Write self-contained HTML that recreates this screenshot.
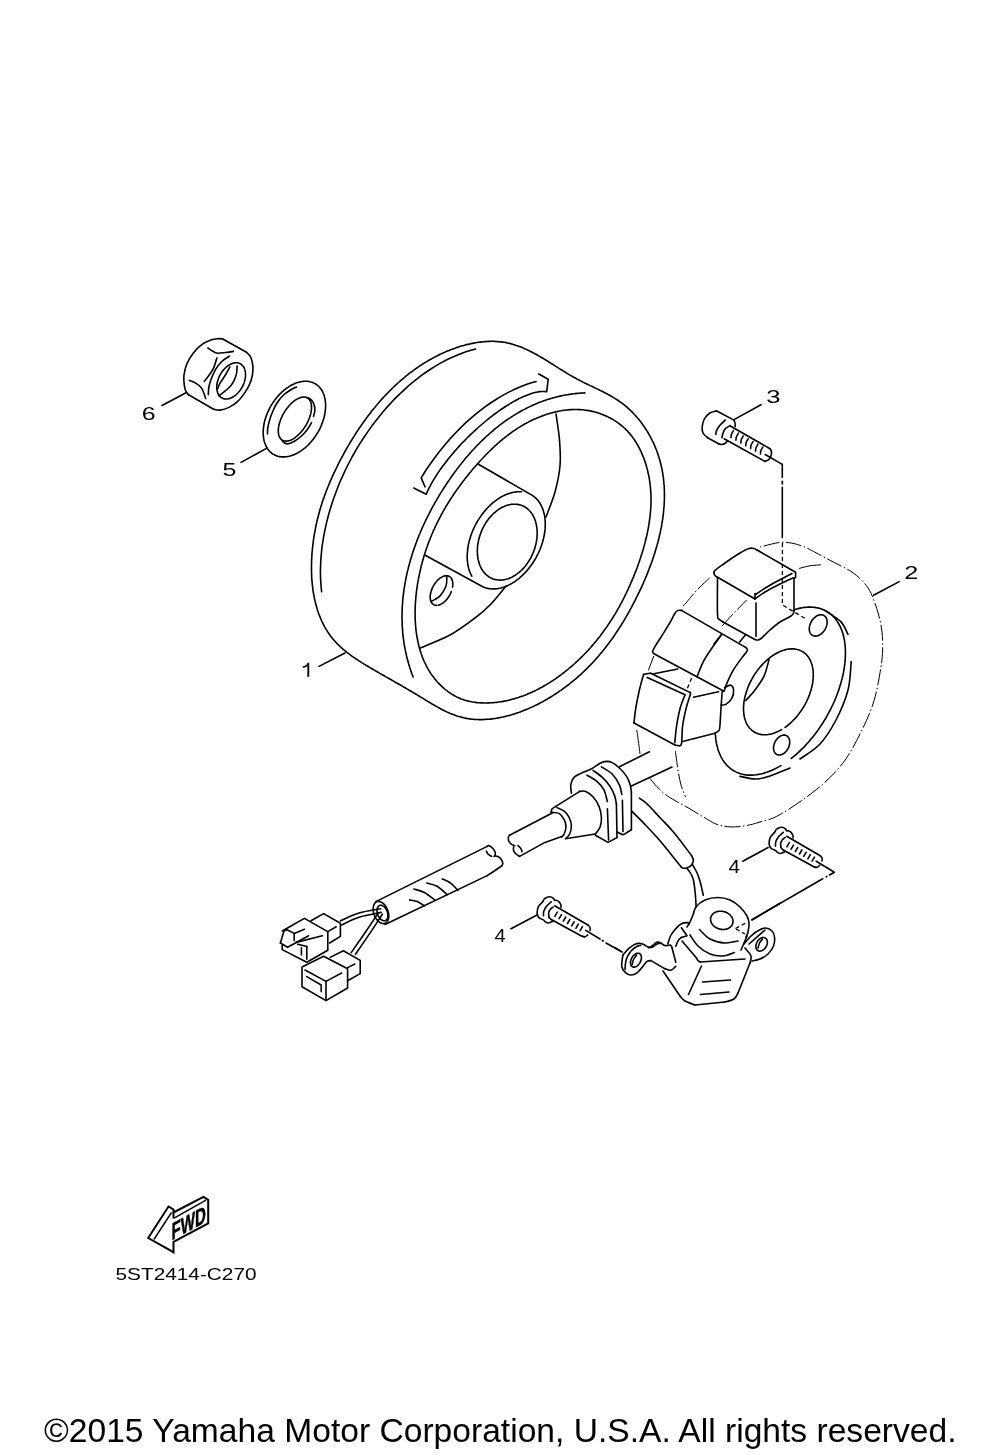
<!DOCTYPE html>
<html><head><meta charset="utf-8">
<style>
html,body{margin:0;padding:0;background:#fff;}
body{width:1000px;height:1455px;overflow:hidden;}
svg{display:block;filter:grayscale(1);}
.s{fill:none;stroke:#000;stroke-width:1.6;stroke-linecap:round;stroke-linejoin:round;}
.t{fill:none;stroke:#000;stroke-width:1;}
.ph{fill:none;stroke:#000;stroke-width:1;stroke-dasharray:16 2.5 1.5 2.5;}
.hd{fill:none;stroke:#000;stroke-width:1.3;stroke-dasharray:4 3;}
.f{fill:#000;stroke:none;}
.a{fill:none;stroke:#000;stroke-width:2;stroke-linejoin:miter;}
.a2{fill:none;stroke:#000;stroke-width:1.4;}
text{font-family:"Liberation Sans",sans-serif;fill:#000;}
.copy{font-size:33px;}
.pn{font-size:17px;}
.lbl{font-size:18px;}
.fwd{font-size:24px;font-weight:bold;stroke:#000;stroke-width:0.5px;}
</style></head><body>
<svg width="1000" height="1455" viewBox="0 0 1000 1455">
<path class="s" d="M333.3,639.4L332.3,638.2 331.3,637 330.4,635.7 329.5,634.5 328.6,633.2 327.7,631.9 326.9,630.6 326.1,629.3 325.3,627.9 324.5,626.6 323.8,625.2 323.1,623.8 322.4,622.4 321.7,621 321.1,619.5 320.5,618.1 319.9,616.6 319.3,615.2 318.7,613.7 318.2,612.2 317.7,610.7 317.2,609.2 316.8,607.6 316.3,606.1 315.9,604.5 315.5,603 315.1,601.4 314.8,599.8 314.4,598.2 314.1,596.6 313.8,595 313.5,593.4 313.2,591.8 313,590.2 312.8,588.6 312.6,586.9 312.4,585.3 312.2,583.6 312.1,582 311.9,580.3 311.8,578.7 311.7,577 311.6,575.4 311.6,573.7 311.5,572 311.5,570.4 311.5,568.7 311.5,567 311.5,565.4 311.5,563.7 311.6,562 311.6,560.3 311.7,558.7 311.8,557 311.9,555.3 312,553.7 312.1,552 312.3,550.4 312.4,548.7 312.6,547.1 312.8,545.4 313,543.8 313.2,542.1 313.4,540.5 313.6,538.9 313.9,537.3 314.1,535.7 314.4,534.1 314.7,532.5 315,530.9 315.3,529.3 315.6,527.7 315.9,526.1 316.2,524.5 316.6,523 316.9,521.4 317.3,519.9 317.7,518.3 318.1,516.8 318.5,515.2 318.9,513.7 319.3,512.2 319.7,510.6 320.2,509.1 320.6,507.6 321.1,506.1 321.6,504.6 322,503.1 322.5,501.6 323,500.1 323.5,498.6 324.1,497.1 324.6,495.6 325.1,494.1 325.7,492.7 326.2,491.2 326.8,489.7 327.4,488.2 328,486.8 328.6,485.3 329.2,483.9 329.8,482.4 330.4,480.9 331,479.5 331.7,478.1 332.3,476.6 333,475.2 333.6,473.7 334.3,472.3 335,470.9 335.7,469.4 336.4,468 337.1,466.6 337.8,465.1 338.5,463.7 339.2,462.3 339.9,460.9 340.7,459.4 341.4,458 342.2,456.6 343,455.2 343.7,453.8 344.5,452.3 345.3,450.9 346.1,449.5 346.9,448.1 347.7,446.7 348.5,445.3 349.3,443.9 350.2,442.5 351,441.1 351.9,439.7 352.7,438.4 353.6,437 354.5,435.6 355.3,434.2 356.2,432.8 357.1,431.5 358,430.1 358.9,428.8 359.8,427.4 360.8,426.1 361.7,424.7 362.6,423.4 363.6,422.1 364.5,420.7 365.5,419.4 366.5,418.1 367.4,416.8 368.4,415.5 369.4,414.2 370.4,412.9 371.4,411.6 372.4,410.3 373.5,409 374.5,407.8 375.5,406.5 376.6,405.3 377.6,404 378.7,402.8 379.8,401.6 380.8,400.3 381.9,399.1 383,397.9 384.1,396.7 385.2,395.5 386.3,394.4 387.5,393.2 388.6,392 389.7,390.9 390.9,389.7 392,388.6 393.2,387.5 394.4,386.3 395.6,385.2 396.7,384.1 397.9,383 399.1,382 400.3,380.9 401.6,379.8 402.8,378.8 404,377.8 405.3,376.7 406.5,375.7 407.8,374.7 409,373.7 410.3,372.7 411.6,371.8 412.9,370.8 414.2,369.9 415.5,368.9 416.8,368 418.1,367.1 419.4,366.2 420.7,365.3 422.1,364.4 423.4,363.6 424.8,362.7 426.2,361.9 427.5,361.1 428.9,360.3 430.3,359.5 431.7,358.7 433.1,357.9 434.5,357.2 435.9,356.4 437.4,355.7 438.8,355 440.2,354.3 441.7,353.6 443.2,352.9 444.6,352.3 446.1,351.6 447.6,351 449.1,350.4 450.6,349.8 452.1,349.3 453.6,348.7 455.1,348.2 456.7,347.6 458.2,347.1 459.7,346.6 461.3,346.1 462.8,345.7 464.4,345.3 466,344.8 467.6,344.4 469.1,344.1 470.7,343.7 472.3,343.4 473.9,343.1 475.5,342.8 477.1,342.5 478.7,342.3 480.3,342.1 481.9,341.9 483.4,341.7 485,341.6 486.6,341.5 488.2,341.4 489.8,341.4 491.4,341.3 493,341.3 494.6,341.4 496.2,341.5 497.8,341.6 499.3,341.7 500.9,341.9 502.5,342.1 504.1,342.3 505.6,342.5 507.2,342.9 508.7,343.2 510.3,343.6 511.8,344 513.3,344.4 514.8,344.9 516.3,345.4 517.9,345.9 519.4,346.5 520.9,347 522.3,347.6 523.8,348.3 525.3,348.9 526.8,349.6 528.2,350.3 529.7,351 531.1,351.7 532.5,352.5 534,353.2 535.4,354 536.8,354.8 538.2,355.6 539.6,356.4 541,357.2 542.4,358 543.8,358.8 545.2,359.7 546.6,360.5 548,361.4 549.3,362.2 550.7,363.1 552.1,364 553.5,364.8 554.8,365.7 556.2,366.6 557.6,367.4 558.9,368.3 560.3,369.2 561.7,370 563.1,370.9 564.5,371.7 565.8,372.6 567.2,373.4 568.6,374.3 570,375.1 571.4,375.9 572.8,376.7 574.3,377.5 575.7,378.3 577.1,379.1 578.6,379.8 580,380.6 581.5,381.3 582.9,382.1 584.4,382.8 585.8,383.5 587.3,384.2 588.8,384.9 590.2,385.6 591.7,386.3 593.2,387 594.7,387.7 596.1,388.4 597.6,389.1 599.1,389.8 600.5,390.6 602,391.3 603.4,392 604.8,392.8 606.3,393.5 607.7,394.3 609.1,395 610.5,395.8 611.9,396.6 613.3,397.4 614.7,398.3 616,399.1 617.4,400 618.7,400.9 620,401.8 621.3,402.7 622.6,403.7 623.9,404.7 625.1,405.7 626.3,406.7 627.5,407.7 628.7,408.8 629.9,409.9 631.1,411 632.2,412.1 633.3,413.3 634.4,414.5 635.5,415.7 636.6,416.9 637.6,418.1 638.7,419.3 639.7,420.6 640.7,421.8 641.6,423.1 642.6,424.4 643.5,425.7 644.4,427.1 645.3,428.4 646.2,429.8 647.1,431.1 647.9,432.5 648.7,433.9 649.5,435.3 650.3,436.7 651,438.1 651.8,439.5 652.5,441 653.2,442.4 653.9,443.9 654.5,445.3 655.1,446.8 655.7,448.3 656.3,449.8 656.9,451.2 657.4,452.7 657.9,454.2 658.4,455.7 658.9,457.2 659.4,458.7 659.8,460.2 660.2,461.8 660.6,463.3 661,464.8 661.3,466.3 661.7,467.9 662,469.4 662.3,470.9 662.6,472.5 662.8,474 663,475.6 663.3,477.1 663.5,478.7 663.6,480.3 663.8,481.8 663.9,483.4 664.1,485 664.2,486.5 664.3,488.1 664.3,489.7 664.4,491.3 664.4,492.8 664.4,494.4 664.4,496 664.4,497.6 664.4,499.2 664.3,500.8 664.3,502.4 664.2,504 664.1,505.6 664,507.2 663.8,508.7 663.7,510.3 663.5,511.9 663.4,513.5 663.2,515.1 663,516.7 662.8,518.3 662.5,519.9 662.3,521.5 662,523.1 661.7,524.7 661.5,526.3 661.2,527.9 660.8,529.5 660.5,531.1 660.2,532.7 659.8,534.3 659.4,535.9 659.1,537.5 658.7,539.1 658.3,540.7 657.9,542.3 657.4,543.9 657,545.5 656.5,547 656.1,548.6 655.6,550.2 655.1,551.8 654.6,553.4 654.1,554.9 653.6,556.5 653.1,558.1 652.6,559.6 652,561.2 651.5,562.8 650.9,564.3 650.3,565.9 649.7,567.4 649.1,569 648.5,570.5 647.9,572.1 647.3,573.6 646.7,575.2 646.1,576.7 645.4,578.2 644.8,579.7 644.1,581.3 643.5,582.8 642.8,584.3 642.1,585.8 641.4,587.3 640.7,588.8 640,590.3 639.3,591.8 638.6,593.2 637.9,594.7 637.2,596.2 636.4,597.7 635.7,599.1 635,600.6 634.2,602 633.5,603.5 632.7,604.9 632,606.3 631.2,607.8 630.4,609.2 629.7,610.6 628.9,612 628.1,613.4 627.3,614.8 626.5,616.2 625.7,617.6 624.9,618.9 624.1,620.3 623.3,621.7 622.4,623 621.6,624.4 620.8,625.7 619.9,627 619.1,628.4 618.2,629.7 617.4,631 616.5,632.3 615.6,633.6 614.8,634.9 613.9,636.2 613,637.5 612.1,638.8 611.2,640.1 610.2,641.3 609.3,642.6 608.4,643.8 607.4,645.1 606.5,646.3 605.5,647.6 604.6,648.8 603.6,650 602.6,651.2 601.6,652.4 600.6,653.6 599.6,654.8 598.6,656 597.6,657.2 596.5,658.4 595.5,659.5 594.4,660.7 593.4,661.8 592.3,663 591.2,664.1 590.1,665.3 589,666.4 587.9,667.5 586.8,668.6 585.7,669.7 584.5,670.8 583.4,671.9 582.2,673 581.1,674.1 579.9,675.1 578.7,676.2 577.5,677.3 576.3,678.3 575,679.4 573.8,680.4 572.6,681.4 571.3,682.4 570,683.5 568.8,684.5 567.5,685.5 566.2,686.4 564.9,687.4 563.5,688.4 562.2,689.3 560.9,690.3 559.5,691.2 558.2,692.2 556.8,693.1 555.4,694 554,694.9 552.6,695.8 551.2,696.7 549.8,697.5 548.4,698.4 547,699.2 545.6,700 544.1,700.9 542.7,701.7 541.2,702.4 539.7,703.2 538.3,704 536.8,704.7 535.3,705.4 533.8,706.2 532.3,706.9 530.8,707.6 529.3,708.2 527.8,708.9 526.3,709.5 524.8,710.1 523.2,710.7 521.7,711.3 520.2,711.9 518.6,712.5 517.1,713 515.5,713.5 514,714 512.4,714.5 510.8,715 509.3,715.4 507.7,715.8 506.1,716.2 504.5,716.6 503,717 501.4,717.3 499.8,717.6 498.2,717.9 496.6,718.2 495,718.5 493.4,718.7 491.9,718.9 490.3,719.1 488.7,719.2 487.1,719.3 485.5,719.4 483.9,719.5 482.4,719.6 480.8,719.6 479.2,719.6 477.6,719.5 476.1,719.5 474.5,719.4 472.9,719.2 471.4,719.1 469.8,718.9 468.3,718.7 466.7,718.4 465.2,718.1 463.7,717.8 462.1,717.4 460.6,717 459.1,716.6 457.6,716.2 456.1,715.7 454.6,715.1 453.2,714.6 451.7,714 450.2,713.4 448.8,712.8 447.3,712.1 445.8,711.4 444.4,710.7 443,710 441.5,709.3 440.1,708.5 438.7,707.7 437.2,706.9 435.8,706.1 434.4,705.3 433,704.5 431.6,703.7 430.2,702.8 428.8,702 427.3,701.1 425.9,700.3 424.5,699.4 423.2,698.6 421.8,697.7 420.4,696.9 419,696 417.6,695.2 416.2,694.3 414.8,693.5 413.4,692.7 412,691.8 410.6,691 409.2,690.2 407.9,689.4 406.5,688.6 405.1,687.8 403.7,687 402.3,686.1 400.9,685.3 399.5,684.5 398.1,683.7 396.7,683 395.3,682.2 394,681.4 392.6,680.6 391.2,679.8 389.8,679 388.4,678.2 387,677.4 385.6,676.6 384.2,675.8 382.8,675 381.4,674.2 380,673.4 378.6,672.6 377.2,671.8 375.8,671 374.3,670.1 372.9,669.3 371.5,668.5 370.1,667.7 368.7,666.8 367.3,666 365.9,665.2 364.5,664.3 363.1,663.4 361.7,662.6 360.3,661.7 358.9,660.8 357.6,659.9 356.2,659 354.9,658.1 353.5,657.2 352.2,656.3 350.9,655.3 349.6,654.3 348.3,653.4 347,652.4 345.8,651.4 344.5,650.4 343.3,649.4 342.1,648.3 340.9,647.3 339.8,646.2 338.6,645.1 337.5,644 336.4,642.9 335.4,641.7 334.3,640.6 333.3,639.4 333.3,639.4"/>
<path class="s" d="M584.8,392.9L582.9,393 581,393.1 579,393.2 577.1,393.4 575.2,393.6 573.3,393.8 571.4,394.1 569.5,394.4 567.6,394.7 565.7,395 563.8,395.3 562,395.7 560.1,396.1 558.3,396.5 556.4,397 554.6,397.5 552.8,398 551,398.5 549.2,399 547.4,399.6 545.6,400.2 543.8,400.8 542,401.5 540.3,402.1 538.5,402.8 536.8,403.5 535,404.3 533.3,405 531.6,405.8 529.9,406.6 528.2,407.4 526.5,408.2 524.9,409.1 523.2,409.9 521.6,410.8 519.9,411.7 518.3,412.7 516.7,413.6 515.1,414.6 513.5,415.6 511.9,416.6 510.4,417.6 508.8,418.6 507.3,419.7 505.7,420.7 504.2,421.8 502.7,422.9 501.2,424 499.7,425.2 498.3,426.3 496.8,427.5 495.3,428.7 493.9,429.9 492.5,431.1 491,432.3 489.6,433.5 488.2,434.8 486.8,436 485.5,437.3 484.1,438.6 482.8,439.9 481.4,441.2 480.1,442.5 478.8,443.8 477.4,445.1 476.2,446.5 474.9,447.9 473.6,449.2 472.3,450.6 471.1,452 469.8,453.4 468.6,454.8 467.4,456.2 466.1,457.6 464.9,459.1 463.8,460.5 462.6,462 461.4,463.5 460.2,464.9 459.1,466.4 457.9,467.9 456.8,469.4 455.7,470.9 454.5,472.4 453.4,474 452.3,475.5 451.2,477 450.2,478.6 449.1,480.1 448,481.7 447,483.3 445.9,484.9 444.9,486.5 443.8,488 442.8,489.7 441.8,491.3 440.8,492.9 439.8,494.5 438.8,496.1 437.9,497.8 436.9,499.4 435.9,501.1 435,502.7 434.1,504.4 433.1,506 432.2,507.7 431.3,509.4 430.4,511.1 429.5,512.8 428.7,514.5 427.8,516.2 427,517.9 426.1,519.6 425.3,521.3 424.5,523 423.7,524.8 422.9,526.5 422.1,528.2 421.4,530 420.6,531.7 419.9,533.5 419.1,535.3 418.4,537 417.7,538.8 417,540.6 416.4,542.3 415.7,544.1 415.1,545.9 414.4,547.7 413.8,549.5 413.2,551.3 412.6,553.1 412,554.9 411.5,556.7 410.9,558.5 410.4,560.3 409.9,562.1 409.4,563.9 408.9,565.8 408.4,567.6 408,569.4 407.5,571.2 407.1,573.1 406.7,574.9 406.3,576.7 405.9,578.6 405.6,580.4 405.2,582.3 404.9,584.1 404.6,586 404.3,587.8 404,589.7 403.8,591.5 403.5,593.4 403.3,595.2 403.1,597.1 402.9,598.9 402.7,600.8 402.6,602.7 402.5,604.5 402.3,606.4 402.2,608.2 402.2,610.1 402.1,612 402.1,613.8 402,615.7 402,617.6 402.1,619.4 402.1,621.3 402.2,623.2 402.2,625 402.3,626.9 402.5,628.8 402.6,630.6 402.7,632.5 402.9,634.4 403.1,636.2 403.3,638.1 403.6,639.9 403.9,641.8 404.1,643.7 404.4,645.5 404.8,647.4 405.1,649.2 405.5,651.1 405.9,652.9 406.3,654.8 406.7,656.6 407.2,658.5 407.7,660.3 408.2,662.2 408.7,664 409.3,665.9 409.8,667.7 410.4,669.5 411.1,671.4 411.7,673.2 412.4,675 413.1,676.9"/>
<path class="s" d="M644.5,460.1L644.9,461.4 645.4,462.7 645.8,464 646.2,465.4 646.6,466.7 646.9,468 647.3,469.3 647.6,470.7 647.9,472 648.2,473.3 648.5,474.7 648.8,476 649.1,477.4 649.3,478.7 649.5,480.1 649.7,481.4 649.9,482.8 650.1,484.1 650.2,485.5 650.4,486.8 650.5,488.2 650.6,489.5 650.7,490.9 650.8,492.2 650.9,493.6 650.9,495 651,496.3 651,497.7 651,499.1 651,500.4 651,501.8 651,503.2 650.9,504.5 650.9,505.9 650.8,507.3 650.7,508.6 650.6,510 650.5,511.4 650.4,512.7 650.3,514.1 650.1,515.5 650,516.8 649.8,518.2 649.6,519.6 649.4,520.9 649.3,522.3 649,523.7 648.8,525 648.6,526.4 648.3,527.8 648.1,529.1 647.8,530.5 647.6,531.8 647.3,533.2 647,534.6 646.7,535.9 646.4,537.3 646,538.6 645.7,540 645.4,541.3 645,542.7 644.7,544 644.3,545.4 643.9,546.7 643.6,548.1 643.2,549.4 642.8,550.8 642.4,552.1 642,553.4 641.5,554.8 641.1,556.1 640.7,557.4 640.2,558.8 639.8,560.1 639.3,561.4 638.9,562.7 638.4,564.1 637.9,565.4 637.4,566.7 637,568 636.5,569.3 636,570.6 635.5,571.9 635,573.2 634.4,574.5 633.9,575.8 633.4,577.1 632.9,578.3 632.3,579.6 631.8,580.9 631.3,582.2 630.7,583.4 630.2,584.7 629.6,586 629,587.2 628.4,588.5 627.9,589.7 627.3,591 626.7,592.2 626.1,593.5 625.5,594.7 624.9,595.9 624.3,597.2 623.7,598.4 623,599.6 622.4,600.8 621.8,602.1 621.1,603.3 620.5,604.5 619.8,605.7 619.2,606.9 618.5,608.1 617.8,609.2 617.2,610.4 616.5,611.6 615.8,612.8 615.1,614 614.4,615.1 613.7,616.3 612.9,617.5 612.2,618.6 611.5,619.8 610.8,620.9 610,622 609.3,623.2 608.5,624.3 607.8,625.4 607,626.6 606.2,627.7 605.4,628.8 604.6,629.9 603.8,631 603,632.1 602.2,633.2 601.4,634.3 600.6,635.4 599.8,636.4 598.9,637.5 598.1,638.6 597.2,639.6 596.4,640.7 595.5,641.8 594.7,642.8 593.8,643.8 592.9,644.9 592,645.9 591.1,646.9 590.2,648 589.3,649 588.4,650 587.4,651 586.5,652 585.6,653 584.6,654 583.6,655 582.7,655.9 581.7,656.9 580.7,657.9 579.7,658.8 578.7,659.8 577.7,660.7 576.7,661.7 575.7,662.6 574.7,663.5 573.7,664.5 572.6,665.4 571.6,666.3 570.5,667.2 569.4,668.1 568.4,669 567.3,669.9 566.2,670.7 565.1,671.6 564,672.5 562.9,673.3 561.8,674.2 560.7,675 559.5,675.8 558.4,676.7 557.3,677.5 556.1,678.3 555,679.1 553.8,679.9 552.6,680.6 551.5,681.4 550.3,682.2 549.1,682.9 547.9,683.6 546.7,684.4 545.5,685.1 544.3,685.8 543.1,686.5 541.9,687.2 540.6,687.8 539.4,688.5 538.2,689.1 536.9,689.8 535.7,690.4 534.4,691 533.2,691.6 531.9,692.2 530.6,692.7 529.4,693.3 528.1,693.8 526.8,694.4 525.5,694.9 524.2,695.4 522.9,695.9 521.6,696.3 520.3,696.8 519,697.3 517.7,697.7 516.4,698.1 515.1,698.5 513.8,698.9 512.4,699.2 511.1,699.6 509.8,699.9 508.4,700.3 507.1,700.6 505.8,700.8 504.4,701.1 503.1,701.4 501.7,701.6 500.4,701.8 499,702 497.6,702.2 496.3,702.4 494.9,702.5 493.5,702.6 492.2,702.7 490.8,702.8 489.4,702.9 488,702.9 486.7,703 485.3,703 483.9,703 482.5,702.9 481.1,702.9 479.8,702.8 478.4,702.7 477,702.6 475.6,702.4 474.3,702.2 472.9,702 471.6,701.8 470.2,701.5 468.9,701.2 467.6,700.9 466.2,700.6 464.9,700.2 463.6,699.8 462.4,699.3 461.1,698.9 459.8,698.3 458.6,697.8 457.3,697.2 456.1,696.6 454.9,696 453.7,695.3 452.5,694.6 451.3,693.9 450.2,693.1 449.1,692.4 448,691.6 446.9,690.7 445.8,689.9 444.7,689 443.7,688.1 442.6,687.2 441.6,686.3 440.7,685.4 439.7,684.4 438.8,683.4 437.8,682.5 436.9,681.5 436.1,680.4 435.2,679.4 434.4,678.4 433.6,677.3 432.8,676.3 432,675.2 431.2,674.1 430.5,673 429.8,671.9 429.1,670.7 428.4,669.6 427.7,668.4 427.1,667.3 426.5,666.1 425.9,664.9 425.3,663.7 424.7,662.5 424.1,661.3 423.6,660.1 423.1,658.8 422.6,657.6 422.1,656.3 421.7,655.1 421.2,653.8 420.8,652.5 420.4,651.2 420,649.9 419.6,648.6 419.2,647.3 418.9,646 418.6,644.7 418.3,643.3 418,642 417.7,640.6 417.4,639.3 417.2,637.9 416.9,636.6 416.7,635.2 416.5,633.8 416.3,632.4 416.1,631.1 416,629.7 415.8,628.3 415.7,626.9 415.6,625.5 415.5,624.1 415.4,622.7 415.3,621.2 415.2,619.8 415.2,618.4 415.1,617 415.1,615.6 415.1,614.1 415.1,612.7 415.1,611.3 415.1,609.9 415.2,608.4 415.2,607 415.3,605.6 415.4,604.1 415.4,602.7 415.5,601.3 415.7,599.8 415.8,598.4 415.9,597 416,595.5 416.2,594.1 416.4,592.7 416.5,591.2 416.7,589.8 416.9,588.4 417.1,587 417.3,585.5 417.5,584.1 417.8,582.7 418,581.3 418.3,579.9 418.5,578.5 418.8,577.1 419.1,575.7 419.4,574.3 419.7,572.9 420,571.5 420.3,570.2 420.6,568.8 420.9,567.4 421.3,566.1 421.6,564.7 422,563.4 422.3,562 422.7,560.7 423.1,559.3 423.5,558 423.8,556.7 424.2,555.3 424.7,554 425.1,552.7 425.5,551.4 425.9,550.1 426.4,548.8 426.8,547.5 427.3,546.2 427.7,544.9 428.2,543.6 428.7,542.3 429.2,541 429.7,539.8 430.2,538.5 430.7,537.2 431.2,536 431.7,534.7 432.3,533.5 432.8,532.2 433.3,531 433.9,529.7 434.5,528.5 435,527.3 435.6,526 436.2,524.8 436.8,523.6 437.4,522.4 438,521.2 438.6,520 439.2,518.8 439.8,517.6 440.5,516.4 441.1,515.2 441.7,514 442.4,512.8 443,511.6 443.7,510.4 444.4,509.3 445.1,508.1 445.7,506.9 446.4,505.8 447.1,504.6 447.8,503.5 448.6,502.3 449.3,501.2 450,500 450.7,498.9 451.5,497.7 452.2,496.6 453,495.5 453.7,494.3 454.5,493.2 455.2,492.1 456,491 456.8,489.9 457.6,488.8 458.4,487.7 459.2,486.6 460,485.5 460.8,484.4 461.6,483.3 462.4,482.2 463.2,481.1 464.1,480 464.9,478.9 465.8,477.9 466.6,476.8 467.5,475.7 468.3,474.6 469.2,473.6 470.1,472.5 471,471.5 471.8,470.4 472.7,469.3 473.6,468.3 474.5,467.2 475.4,466.2 476.3,465.2 477.3,464.1 478.2,463.1 479.1,462.1 480,461 481,460 481.9,459 482.9,458 483.8,457 484.8,456 485.7,455 486.7,454 487.7,453 488.7,452 489.7,451 490.7,450.1 491.7,449.1 492.7,448.1 493.7,447.2 494.7,446.2 495.7,445.3 496.8,444.4 497.8,443.4 498.9,442.5 499.9,441.6 501,440.7 502,439.8 503.1,438.9 504.2,438.1 505.2,437.2 506.3,436.4 507.4,435.5 508.5,434.7 509.6,433.8 510.8,433 511.9,432.2 513,431.4 514.1,430.6 515.3,429.9 516.4,429.1 517.6,428.3 518.8,427.6 519.9,426.9 521.1,426.1 522.3,425.4 523.5,424.7 524.7,424 525.9,423.4 527.1,422.7 528.3,422.1 529.5,421.4 530.8,420.8 532,420.2 533.3,419.6 534.5,419 535.8,418.5 537.1,417.9 538.3,417.4 539.6,416.9 540.9,416.4 542.2,415.9 543.5,415.4 544.8,414.9 546.2,414.5 547.5,414.1 548.8,413.7 550.2,413.3 551.5,412.9 552.9,412.5 554.2,412.2 555.6,411.9 556.9,411.6 558.3,411.3 559.6,411 561,410.8 562.4,410.5 563.8,410.3 565.1,410.2 566.5,410 567.9,409.9 569.3,409.7 570.6,409.6 572,409.6 573.4,409.5 574.8,409.5 576.2,409.5 577.5,409.5 578.9,409.6 580.3,409.6 581.7,409.7 583,409.8 584.4,410 585.7,410.2 587.1,410.4 588.5,410.6 589.8,410.8 591.1,411.1 592.5,411.4 593.8,411.7 595.1,412.1 596.5,412.4 597.8,412.8 599.1,413.2 600.4,413.7 601.6,414.2 602.9,414.7 604.2,415.2 605.4,415.7 606.7,416.3 607.9,416.9 609.1,417.5 610.4,418.1 611.5,418.8 612.7,419.4 613.9,420.1 615.1,420.9 616.2,421.6 617.3,422.4 618.4,423.2 619.5,424 620.6,424.8 621.7,425.7 622.7,426.6 623.7,427.5 624.8,428.4 625.7,429.4 626.7,430.3 627.7,431.3 628.6,432.4 629.5,433.4 630.4,434.4 631.3,435.5 632.1,436.6 632.9,437.7 633.8,438.9 634.5,440 635.3,441.2 636.1,442.4 636.8,443.6 637.5,444.8 638.2,446 638.8,447.2 639.5,448.5 640.1,449.7 640.7,451 641.3,452.3 641.9,453.6 642.4,454.9 643,456.2 643.5,457.5 644,458.8 644.5,460.1 644.5,460.1"/>
<path class="s" d="M475.6,349L471.1,350.2 466.6,351.6 462,353.2 457.5,354.9 452.9,356.9 448.3,359 443.7,361.4 439.2,363.9 434.6,366.6 430.1,369.5 425.6,372.5 421.1,375.7 416.7,379.1 412.3,382.7 407.9,386.4 403.6,390.3 399.4,394.3 395.2,398.4 391.1,402.7 387.1,407.1 383.1,411.7 379.2,416.4 375.5,421.2 371.8,426.1 368.2,431.1 364.7,436.2 361.3,441.4 358,446.7 354.9,452 351.8,457.5 348.9,463 346.1,468.5 343.5,474.1 340.9,479.8 338.5,485.5 336.3,491.2 334.2,497 332.2,502.7 330.4,508.5 328.7,514.3 327.2,520.1 325.8,525.9 324.6,531.6 323.5,537.3 322.6,543 321.8,548.7 321.3,554.3 320.8,559.8 320.6,565.3 320.4,570.7 320.5,576.1 320.7,581.3 321.1,586.5 321.6,591.6"/>
<path class="s" d="M536.1,381.5L531.5,382.8 526.9,384.3 522.3,386.1 517.6,388 513,390.1 508.3,392.4 503.7,394.9 499,397.6 494.4,400.5 489.8,403.5 485.3,406.7 480.8,410.1 476.3,413.6 471.9,417.4 467.5,421.2 463.2,425.2 459,429.4 454.8,433.7 450.7,438.1 446.7,442.7 442.7,447.4 438.9,452.2 435.1,457.2 431.5,462.2 427.9,467.3 424.5,472.5 421.2,477.9 425,486.8"/>
<path class="s" d="M538.8,374L548.2,379.2 546.7,391.8 545.4,391.6 544.1,391.5 542.8,391.5 541.3,391.5 539.8,391.6 538.2,391.9 536.6,392.2 534.9,392.5 533.2,393 531.4,393.5 529.5,394.2 527.6,394.9 525.6,395.7 523.6,396.5 521.6,397.4 519.5,398.4 517.4,399.5 515.2,400.7 513,401.9 510.8,403.2 508.6,404.6 506.3,406 504,407.5 501.7,409 499.4,410.6 497,412.3 494.7,414 492.3,415.8 490,417.7 487.6,419.5 485.2,421.5 482.9,423.5 480.5,425.5 478.2,427.5 475.9,429.6 473.6,431.8 471.3,433.9 469,436.1 466.8,438.3 464.6,440.6 462.4,442.8 460.2,445.1 458.1,447.4 456.1,449.7 454,452.1 452,454.4 450.1,456.7 448.2,459 446.4,461.4 444.6,463.7 442.8,466 441.2,468.3 439.5,470.6 438,472.9 436.5,475.2 435.1,477.4 433.7,479.6 432.4,481.8 431.2,483.9 430.1,486.1 429,488.1 428,490.2 427.1,492.2 426.2,494.2 413.8,488"/>
<path class="s" d="M521.6,491.8L520.3,491.8 519,491.7 517.7,491.8 516.4,491.9 515.1,492 513.7,492.3 512.4,492.5 511,492.9 509.7,493.3 508.3,493.7 506.9,494.2 505.5,494.8 504.2,495.4 502.8,496.1 501.4,496.8 500.1,497.6 498.7,498.5 497.4,499.4 496.1,500.3 494.7,501.3 493.4,502.4 492.1,503.4 490.9,504.6 489.6,505.8 488.4,507 487.2,508.2 486,509.6 484.8,510.9 483.7,512.3 482.6,513.7 481.5,515.1 480.5,516.6 479.5,518.1 478.5,519.6 477.5,521.2 476.6,522.8 475.7,524.4 474.9,526 474.1,527.7 473.3,529.3 472.6,531 471.9,532.7 471.3,534.4 470.7,536.1 470.2,537.8 469.7,539.5 469.2,541.2 468.8,542.9 468.4,544.6 468.1,546.3 467.9,548 467.6,549.7 467.5,551.4 467.3,553 467.3,554.7 467.2,556.3 467.2,557.9 467.3,559.5 467.4,561 467.6,562.6 467.8,564.1 468,565.6 468.4,567 468.7,568.4 469.1,569.8 469.5,571.1 470,572.5 470.6,573.7 471.1,574.9 471.8,576.1"/>
<path class="s" d="M478,464L532.3,495.4 533.3,496.1 534.2,496.8 535.2,497.6 536.1,498.4 536.9,499.3 537.8,500.3 538.5,501.2 539.3,502.3 540,503.3 540.6,504.5 541.3,505.6 541.8,506.8 542.4,508.1 542.9,509.4 543.3,510.7 543.7,512.1 544.1,513.5 544.4,514.9 544.7,516.4 544.9,517.9 545,519.4 545.2,520.9 545.2,522.5 545.3,524.1 545.2,525.7 545.2,527.3 545.1,528.9 544.9,530.6 544.7,532.3 544.4,534 544.1,535.6 543.8,537.3 543.4,539 542.9,540.7 542.5,542.4 541.9,544.1 541.4,545.8 540.7,547.5 540.1,549.2 539.4,550.8 538.6,552.5 537.9,554.1 537,555.7 536.2,557.3 535.3,558.9 534.4,560.5 533.4,562 532.4,563.5 531.4,565 530.3,566.4 529.2,567.8 528.1,569.2 527,570.6 525.8,571.9 524.6,573.2 523.4,574.4 522.2,575.6 520.9,576.7 519.7,577.8 518.4,578.9 517.1,579.9 515.8,580.9 514.4,581.8 513.1,582.6 511.8,583.4 510.4,584.2 509,584.9 507.7,585.6 506.3,586.2 505,586.7 503.6,587.2 502.2,587.6 500.9,588 499.5,588.3 498.2,588.5 496.9,588.7 495.6,588.9 494.3,588.9 493,589 491.7,588.9 490.4,588.8 489.2,588.7 488,588.4 486.8,588.2 485.6,587.8 484.5,587.4 483.4,587 482.3,586.5 425.2,555.2"/>
<path class="s" d="M481.4,531.4L481.9,530.2 482.5,528.9 483.1,527.7 483.7,526.5 484.4,525.3 485.1,524.1 485.8,522.9 486.5,521.8 487.3,520.7 488.1,519.6 488.9,518.6 489.8,517.5 490.6,516.5 491.5,515.6 492.4,514.7 493.3,513.8 494.2,512.9 495.2,512.1 496.1,511.3 497.1,510.5 498.1,509.8 499.1,509.1 500.1,508.5 501.1,507.9 502.2,507.3 503.2,506.8 504.2,506.4 505.3,505.9 506.3,505.6 507.4,505.2 508.4,504.9 509.4,504.7 510.5,504.5 511.5,504.3 512.5,504.2 513.6,504.2 514.6,504.2 515.6,504.2 516.6,504.3 517.6,504.4 518.6,504.6 519.5,504.8 520.5,505 521.4,505.3 522.3,505.7 523.2,506.1 524.1,506.5 524.9,507 525.8,507.5 526.6,508.1 527.3,508.7 528.1,509.4 528.8,510 529.6,510.8 530.2,511.5 530.9,512.3 531.5,513.2 532.1,514.1 532.7,515 533.2,515.9 533.7,516.9 534.2,517.9 534.6,518.9 535,520 535.4,521.1 535.7,522.2 536,523.3 536.3,524.5 536.5,525.7 536.7,526.9 536.9,528.1 537,529.3 537.1,530.6 537.2,531.9 537.2,533.1 537.2,534.4 537.1,535.7 537,537.1 536.9,538.4 536.7,539.7 536.5,541 536.3,542.3 536,543.7 535.7,545 535.3,546.3 535,547.6 534.6,548.9 534.1,550.2 533.6,551.5 533.1,552.8 532.6,554.1 532,555.3 531.4,556.5 530.8,557.8 530.1,559 529.4,560.1 528.7,561.3 528,562.4 527.2,563.5 526.4,564.6 525.6,565.7 524.8,566.7 523.9,567.7 523,568.6 522.1,569.6 521.2,570.5 520.3,571.3 519.3,572.2 518.4,572.9 517.4,573.7 516.4,574.4 515.4,575.1 514.4,575.7 513.4,576.3 512.4,576.9 511.3,577.4 510.3,577.8 509.3,578.3 508.2,578.7 507.2,579 506.1,579.3 505.1,579.5 504,579.7 503,579.9 502,580 501,580 499.9,580.1 498.9,580 497.9,580 496.9,579.8 496,579.7 495,579.4 494.1,579.2 493.1,578.9 492.2,578.5 491.3,578.1 490.5,577.7 489.6,577.2 488.8,576.7 488,576.1 487.2,575.5 486.4,574.9 485.7,574.2 485,573.4 484.3,572.7 483.6,571.9 483,571 482.4,570.2 481.8,569.3 481.3,568.3 480.8,567.3 480.3,566.3 479.9,565.3 479.5,564.2 479.1,563.1 478.8,562 478.5,560.9 478.2,559.7 478,558.5 477.8,557.3 477.6,556.1 477.5,554.9 477.4,553.6 477.4,552.4 477.3,551.1 477.4,549.8 477.4,548.5 477.5,547.2 477.6,545.9 477.8,544.5 478,543.2 478.3,541.9 478.5,540.6 478.8,539.2 479.2,537.9 479.6,536.6 480,535.3 480.4,534 480.9,532.7Z"/>
<path class="s" d="M556,414C556.6,418.3 558.8,431.3 559.5,440C560.2,448.7 560.8,457.3 560,466C559.2,474.7 557.3,483.5 555,492C552.7,500.5 547.5,512.8 546,517"/>
<path class="s" d="M506,586C503.3,589.2 495.2,599.7 490,605C484.8,610.3 481.7,613 475,618C468.3,623 459.2,630 450,635C440.8,640 425,645.8 420,648"/>
<path class="s" d="M452.5,587.2L452.6,586.7 452.7,586.2 452.7,585.7 452.8,585.2 452.8,584.8 452.8,584.3 452.8,583.8 452.8,583.4 452.8,582.9 452.7,582.5 452.7,582 452.6,581.6 452.5,581.2 452.4,580.8 452.3,580.4 452.2,580.1 452,579.7 451.9,579.4 451.7,579 451.5,578.7 451.4,578.4 451.2,578.1 450.9,577.8 450.7,577.6 450.5,577.3 450.2,577.1 450,576.9 449.7,576.7 449.4,576.5 449.2,576.4 448.9,576.2 448.6,576.1 448.2,576 447.9,575.9 447.6,575.8 447.3,575.8 446.9,575.8 446.6,575.7 446.2,575.7 445.8,575.8 445.5,575.8 445.1,575.9 444.7,575.9 444.4,576 444,576.1 443.6,576.3 443.2,576.4 442.8,576.6 442.4,576.7 442,576.9 441.6,577.2 441.2,577.4 440.8,577.6 440.4,577.9 440,578.2 439.6,578.5 439.3,578.8 438.9,579.1 438.5,579.4 438.1,579.8 437.7,580.1 437.4,580.5 437,580.9 436.6,581.3 436.3,581.7 435.9,582.1 435.6,582.6 435.3,583 434.9,583.5 434.6,583.9 434.3,584.4 434,584.9 433.7,585.3 433.4,585.8 433.2,586.3 432.9,586.8 432.7,587.3 432.4,587.8 432.2,588.3 432,588.9 431.8,589.4 431.6,589.9 431.4,590.4 431.2,590.9 431.1,591.4 430.9,592 430.8,592.5 430.7,593 430.6,593.5 430.5,594 430.4,594.5 430.3,595 430.3,595.5 430.2,596 430.2,596.5 430.2,596.9 430.2,597.4 430.2,597.9 430.3,598.3 430.3,598.7 430.4,599.2 430.4,599.6 430.5,600 430.6,600.4 430.7,600.8 430.9,601.1 431,601.5 431.2,601.8 431.3,602.2 431.5,602.5 431.7,602.8 431.9,603.1 432.1,603.3 432.3,603.6 432.6,603.8 432.8,604 433.1,604.3 433.4,604.4 433.6,604.6 433.9,604.8 434.2,604.9 434.5,605 434.8,605.1 435.2,605.2 435.5,605.3 435.8,605.3 436.2,605.4 436.5,605.4 436.9,605.4"/>
<path class="s" d="M438.7,605.1L439.1,605 439.5,604.8 439.9,604.7 440.3,604.5 440.7,604.3 441.1,604.1 441.5,603.9 441.9,603.7 442.3,603.4 442.7,603.2 443,602.9 443.4,602.6 443.8,602.3 444.2,601.9 444.6,601.6 445,601.2 445.4,600.9 445.7,600.5 446.1,600.1 446.5,599.7 446.8,599.3 447.2,598.9 447.5,598.4 447.8,598 448.2,597.5 448.5,597.1 448.8,596.6 449.1,596.1 449.4,595.6 449.7,595.1 449.9,594.6 450.2,594.1 450.4,593.6 450.7,593.1 450.9,592.6 451.1,592.1 451.3,591.6"/>
<path class="s" d="M446.8,576.4C446.7,578 447.2,582.7 446,586C444.8,589.3 442,593.9 439.6,596.4C437.2,598.9 432.9,600.4 431.6,601.2"/>
<path class="s" d="M319,666.4L345,653"/>
<path class="s" d="M271.2,405.4L272,404.1 272.8,402.9 273.6,401.8 274.4,400.6 275.2,399.4 276.1,398.3 277,397.2 277.9,396.2 278.8,395.1 279.8,394.1 280.8,393.2 281.7,392.2 282.8,391.3 283.8,390.4 284.8,389.6 285.8,388.8 286.9,388 288,387.3 289,386.6 290.1,385.9 291.2,385.3 292.3,384.7 293.4,384.2 294.4,383.7 295.5,383.2 296.6,382.8 297.7,382.5 298.8,382.2 299.9,381.9 300.9,381.7 302,381.5 303,381.4 304.1,381.3 305.1,381.2 306.1,381.2 307.1,381.3 308.1,381.4 309.1,381.5 310,381.7 311,382 311.9,382.2 312.8,382.6 313.6,382.9 314.5,383.4 315.3,383.8 316.1,384.3 316.9,384.9 317.6,385.4 318.3,386.1 319,386.7 319.7,387.4 320.3,388.2 320.9,389 321.4,389.8 322,390.6 322.5,391.5 322.9,392.4 323.4,393.4 323.7,394.4 324.1,395.4 324.4,396.5 324.7,397.5 324.9,398.6 325.1,399.7 325.3,400.9 325.4,402.1 325.5,403.3 325.6,404.5 325.6,405.7 325.6,406.9 325.5,408.2 325.4,409.5 325.3,410.7 325.1,412 324.9,413.3 324.7,414.7 324.4,416 324.1,417.3 323.7,418.6 323.3,419.9 322.9,421.2 322.4,422.6 321.9,423.9 321.4,425.2 320.9,426.5 320.3,427.8 319.6,429.1 319,430.3 318.3,431.6 317.6,432.8 316.8,434 316.1,435.2 315.3,436.4 314.4,437.6 313.6,438.7 312.7,439.9 311.8,440.9 310.9,442 310,443 309,444.1 308.1,445 307.1,446 306.1,446.9 305.1,447.8 304,448.6 303,449.4 301.9,450.2 300.9,450.9 299.8,451.6 298.7,452.3 297.6,452.9 296.6,453.5 295.5,454 294.4,454.5 293.3,454.9 292.2,455.3 291.1,455.7 290,456 289,456.3 287.9,456.5 286.8,456.7 285.8,456.8 284.7,456.9 283.7,456.9 282.7,456.9 281.7,456.9 280.7,456.8 279.7,456.6 278.8,456.5 277.8,456.2 276.9,455.9 276,455.6 275.2,455.2 274.3,454.8 273.5,454.4 272.7,453.9 271.9,453.3 271.2,452.7 270.5,452.1 269.8,451.5 269.1,450.7 268.5,450 267.9,449.2 267.4,448.4 266.8,447.5 266.4,446.7 265.9,445.7 265.5,444.8 265.1,443.8 264.7,442.8 264.4,441.7 264.1,440.7 263.9,439.6 263.7,438.4 263.5,437.3 263.4,436.1 263.3,434.9 263.2,433.7 263.2,432.5 263.2,431.3 263.3,430 263.4,428.7 263.5,427.4 263.7,426.1 263.9,424.8 264.1,423.5 264.4,422.2 264.7,420.9 265.1,419.6 265.5,418.3 265.9,416.9 266.4,415.6 266.9,414.3 267.4,413 268,411.7 268.6,410.4 269.2,409.1 269.8,407.9 270.5,406.6Z"/>
<path class="s" d="M284.1,412.6L284.5,411.9 285,411.1 285.5,410.4 286,409.7 286.4,409 287,408.3 287.5,407.7 288,407 288.5,406.4 289.1,405.8 289.6,405.2 290.2,404.6 290.7,404 291.3,403.4 291.9,402.9 292.4,402.4 293,401.9 293.6,401.4 294.2,401 294.7,400.5 295.3,400.1 295.9,399.8 296.5,399.4 297,399.1 297.6,398.7 298.2,398.5 298.8,398.2 299.3,398 299.9,397.7 300.4,397.6 301,397.4 301.5,397.3 302,397.2 302.6,397.1 303.1,397 303.6,397 304.1,397 304.5,397 305,397.1 305.5,397.2 305.9,397.3 306.3,397.4 306.7,397.6 307.1,397.8 307.5,398 307.9,398.2 308.3,398.5 308.6,398.8 308.9,399.1 309.2,399.4 309.5,399.8 309.8,400.2 310,400.6 310.3,401 310.5,401.5 310.7,401.9 310.8,402.4 311,402.9 311.1,403.5 311.3,404 311.4,404.6 311.4,405.2 311.5,405.8 311.5,406.4 311.5,407.1 311.5,407.7 311.5,408.4 311.5,409.1 311.4,409.8 311.3,410.5 311.2,411.2 311.1,411.9 310.9,412.6 310.8,413.4 310.6,414.1 310.4,414.9 310.2,415.6 309.9,416.4 309.7,417.2 309.4,417.9 309.1,418.7 308.8,419.5 308.5,420.2 308.1,421 307.8,421.8 307.4,422.5 307,423.3 306.6,424 306.2,424.8 305.8,425.5 305.3,426.3 304.8,427 304.4,427.7 303.9,428.4 303.4,429.1 302.9,429.8 302.4,430.4 301.9,431.1 301.3,431.7 300.8,432.4 300.2,433 299.7,433.6 299.1,434.1 298.6,434.7 298,435.2 297.4,435.7 296.9,436.2 296.3,436.7 295.7,437.1 295.1,437.6 294.5,438 294,438.4 293.4,438.7 292.8,439.1 292.2,439.4 291.7,439.7 291.1,439.9 290.5,440.2 290,440.4 289.4,440.6 288.9,440.7 288.3,440.9 287.8,441 287.3,441 286.8,441.1 286.3,441.1 285.8,441.1 285.3,441.1 284.8,441 284.4,441 283.9,440.9 283.5,440.7 283.1,440.6 282.7,440.4 282.3,440.2 281.9,439.9 281.6,439.7 281.3,439.4 280.9,439.1 280.6,438.7 280.3,438.4 280.1,438 279.8,437.6 279.6,437.1 279.4,436.7 279.2,436.2 279,435.7 278.8,435.2 278.7,434.7 278.6,434.1 278.5,433.5 278.4,432.9 278.4,432.3 278.3,431.7 278.3,431.1 278.3,430.4 278.3,429.7 278.4,429.1 278.4,428.4 278.5,427.7 278.6,427 278.8,426.2 278.9,425.5 279.1,424.8 279.2,424 279.4,423.3 279.7,422.5 279.9,421.7 280.2,421 280.4,420.2 280.7,419.4 281,418.7 281.4,417.9 281.7,417.1 282.1,416.4 282.4,415.6 282.8,414.8 283.2,414.1 283.7,413.3Z"/>
<path class="s" d="M307,397.5C307.8,397.9 310.2,398.6 311.5,400C312.8,401.4 314,404.2 314.5,406C315,407.8 314.9,409.2 314.8,411C314.6,412.8 313.7,415.6 313.5,416.5"/>
<path class="s" d="M311.5,422.5C310.8,423.8 308.8,427.7 307,430C305.2,432.3 303.2,434.6 301,436.5C298.8,438.4 296.1,440.3 294,441.5C291.9,442.7 290.1,443.5 288.5,443.8C286.9,444 285.6,443.5 284.5,443C283.4,442.5 282.4,440.9 282,440.5"/>
<path class="s" d="M296.5,387C295.5,387.5 292.8,388.6 290.5,390C288.2,391.4 285.2,393.3 283,395.5C280.8,397.7 278.8,400.2 277,403C275.2,405.8 273.8,409.1 272.5,412C271.2,414.9 270.3,417.8 269.5,420.5C268.7,423.2 268.1,425.8 267.8,428C267.4,430.2 267.5,433 267.5,434"/>
<path class="s" d="M241,462.4L266.9,448.1"/>
<path class="s" d="M246.1,352C246.8,352.8 249.5,354.7 250.6,357C251.7,359.3 252.6,363 252.9,366C253.2,369 252.9,372 252.4,375C251.9,378 250.9,381.1 249.7,384C248.5,386.9 247.1,389.2 245.2,392.1C243.2,395 240.7,398.6 238,401.1C235.3,403.7 232,405.9 229,407.4C226,408.9 222.6,409.8 220,410.1C217.4,410.4 214.8,409.4 213.7,409.2"/>
<path class="s" d="M213.7,409.2L188.5,394.8"/>
<path class="s" d="M188.5,394.8C188,394.1 186.2,392.4 185.4,390.3C184.7,388.2 184.2,384.8 184,382.2C183.8,379.6 183.6,378 184,375C184.4,372 185.2,367.8 186.7,364.2C188.2,360.6 190.4,356.7 193,353.4C195.6,350.1 199,346.6 202,344.4C205,342.1 208.3,340.9 211,339.9C213.7,338.9 216.2,338.8 218.2,338.6C220.1,338.5 221.9,338.9 222.7,339"/>
<path class="s" d="M222.7,339L246.1,352"/>
<path class="s" d="M207.9,348C208.7,348.5 211.2,350.3 212.8,351.2C214.4,352.1 215.2,353 217.3,353.2C219.4,353.4 222.7,352.8 225.4,352.5C228.1,352.2 232.2,351.6 233.5,351.4"/>
<path class="s" d="M189.4,380.4C190.4,380.8 193.8,381.9 195.7,383.1C197.6,384.3 199.8,386 201.1,387.6C202.4,389.2 203.1,391.2 203.8,393C204.6,394.8 205.3,397.5 205.6,398.4"/>
<path class="s" d="M216.9,357.9C216.4,359.5 215,364.9 213.7,367.8C212.4,370.7 210.8,372.8 209.2,375C207.6,377.2 205.1,380.2 204.3,381.3"/>
<path class="s" d="M229.5,356.1C228.2,357 224.1,359.2 221.8,361.5C219.5,363.8 217.3,366.6 215.5,369.6C213.7,372.6 212.1,376.5 211,379.5C209.9,382.5 209.2,385.1 208.8,387.6C208.4,390.2 208.4,393.6 208.3,394.8"/>
<path class="s" d="M220,375L220.4,374.4 220.7,373.8 221,373.2 221.4,372.7 221.8,372.1 222.2,371.6 222.6,371 223,370.5 223.4,370 223.8,369.5 224.3,369 224.7,368.5 225.2,368.1 225.6,367.6 226.1,367.2 226.6,366.8 227,366.4 227.5,366 228,365.7 228.5,365.4 229,365 229.5,364.7 230,364.5 230.5,364.2 231,364 231.5,363.8 232,363.6 232.5,363.4 233,363.2 233.5,363.1 234,363 234.5,362.9 235,362.8 235.4,362.8 235.9,362.8 236.4,362.8 236.9,362.8 237.3,362.8 237.8,362.9 238.2,363 238.6,363.1 239.1,363.2 239.5,363.4 239.9,363.6 240.3,363.8 240.7,364 241,364.2 241.4,364.5 241.7,364.8 242.1,365.1 242.4,365.4 242.7,365.7 243,366.1 243.3,366.4 243.5,366.8 243.8,367.2 244,367.7 244.2,368.1 244.4,368.5 244.6,369 244.8,369.5 244.9,370 245.1,370.5 245.2,371 245.3,371.6 245.4,372.1 245.4,372.7 245.5,373.3 245.5,373.8 245.5,374.4 245.5,375 245.5,375.6 245.5,376.2 245.4,376.8 245.4,377.5 245.3,378.1 245.2,378.7 245,379.3 244.9,380 244.7,380.6 244.6,381.2 244.4,381.9 244.2,382.5 243.9,383.1 243.7,383.7 243.5,384.4 243.2,385 242.9,385.6 242.6,386.2 242.3,386.8 242,387.4 241.6,388 241.3,388.6 240.9,389.1 240.5,389.7 240.2,390.2 239.8,390.8 239.4,391.3 238.9,391.8 238.5,392.3 238.1,392.8 237.6,393.3 237.2,393.7 236.7,394.2 236.2,394.6 235.8,395 235.3,395.4 234.8,395.8 234.3,396.1 233.8,396.4 233.3,396.8 232.8,397.1 232.3,397.3 231.8,397.6 231.3,397.8 230.8,398 230.3,398.2 229.8,398.4 229.3,398.6 228.8,398.7 228.3,398.8 227.9,398.9 227.4,399 226.9,399 226.4,399 225.9,399 225.5,399 225,399 224.6,398.9 224.1,398.8 223.7,398.7 223.3,398.6 222.9,398.4 222.5,398.2 222.1,398 221.7,397.8 221.3,397.6 220.9,397.3 220.6,397 220.3,396.7 219.9,396.4 219.6,396.1 219.3,395.7 219.1,395.4 218.8,395 218.6,394.6 218.3,394.1 218.1,393.7 217.9,393.2 217.7,392.8 217.5,392.3 217.4,391.8 217.3,391.3 217.1,390.8 217,390.2 217,389.7 216.9,389.1 216.8,388.5 216.8,388 216.8,387.4 216.8,386.8 216.8,386.2 216.8,385.6 216.9,385 217,384.3 217.1,383.7 217.2,383.1 217.3,382.5 217.4,381.8 217.6,381.2 217.8,380.6 218,379.9 218.2,379.3 218.4,378.7 218.6,378 218.9,377.4 219.1,376.8 219.4,376.2 219.7,375.6Z"/>
<path class="s" d="M229.9,366.9C229.2,368.2 227.1,372.3 225.4,375C223.8,377.7 221.3,380.9 220,383.1C218.7,385.4 218.2,387.6 217.8,388.5"/>
<path class="s" d="M237.1,366C236.9,367.5 237.2,371.7 236.2,375C235.1,378.3 233.7,382.4 230.8,385.8C228,389.2 221.1,394.1 219.1,395.7"/>
<path class="s" d="M162,405.5L186.5,392.5"/>
<path class="s" d="M734,420.1C734.2,420.7 734.9,422.3 735.1,423.4C735.3,424.5 735.1,426.1 735.1,426.7"/>
<path class="s" d="M716.4,410.8L734,420.1"/>
<path class="s" d="M716.4,410.8C715.3,411.2 711.8,411.6 709.8,413C707.8,414.4 705.6,416.5 704.3,419C703,421.5 702.3,425.4 702.1,427.8C701.9,430.2 702.3,431.7 703.2,433.3C704.1,434.9 706.9,437 707.6,437.7"/>
<path class="s" d="M707.6,437.7L718.6,443.8"/>
<path class="s" d="M718.6,443.8C719.1,443.9 720.8,444.6 721.9,444.5C723,444.4 724.4,443.7 725.2,443.2C726,442.7 726.6,441.9 726.9,441.6"/>
<path class="s" d="M725.2,420.1C724.3,421 721.2,423.8 719.7,425.6C718.2,427.4 717,429.6 716.4,431.1C715.8,432.6 716,433.8 715.9,434.4"/>
<path class="s" d="M730.2,425.6C729.4,426.2 726.4,427.6 725.2,428.9C724,430.2 723.5,431.8 723,433.3C722.5,434.8 722.1,437 721.9,437.7"/>
<path class="s" d="M730.7,426.2L768.1,447.6"/>
<path class="s" d="M768.1,447.6C768.6,448 770.4,448.7 770.9,449.8C771.4,450.9 771.7,452.6 771.4,454.2C771.1,455.8 770.3,458 769.2,459.2C768.1,460.4 765.5,461 764.8,461.4"/>
<path class="s" d="M764.8,461.4L724.1,438.8"/>
<path class="s" d="M733.5,430.5C733.2,431.1 731.9,432.8 731.5,434C731.1,435.2 731.1,436.9 731,437.5"/>
<path class="s" d="M738.4,433.2C738.1,433.8 736.8,435.6 736.4,436.8C736,437.9 736,439.7 735.9,440.2"/>
<path class="s" d="M743.3,436C743,436.6 741.7,438.3 741.3,439.5C740.9,440.7 740.9,442.4 740.8,443"/>
<path class="s" d="M748.2,438.8C747.9,439.3 746.6,441.1 746.2,442.2C745.8,443.4 745.8,445.2 745.7,445.8"/>
<path class="s" d="M753.1,441.5C752.8,442.1 751.5,443.8 751.1,445C750.7,446.2 750.7,447.9 750.6,448.5"/>
<path class="s" d="M758,444.2C757.7,444.8 756.4,446.6 756,447.8C755.6,448.9 755.6,450.7 755.5,451.2"/>
<path class="s" d="M762.9,447C762.6,447.6 761.3,449.3 760.9,450.5C760.5,451.7 760.5,453.4 760.4,454"/>
<path class="s" d="M765.2,454.5L782.3,464.4"/>
<path class="s" d="M761,404.7L734,419.6"/>
<path class="s" d="M561.1,907.4C561,907 561.2,905.8 560.8,904.8C560.4,903.8 559.6,902.4 558.9,901.6C558.1,900.9 557,900.5 556.3,900.3C555.6,900.1 555.2,900.7 554.7,900.3C554.2,899.9 553.9,898.7 553.1,898.1C552.3,897.5 551,896.9 549.9,896.8C548.8,896.7 547.7,897 546.7,897.4C545.8,897.8 544.8,898.4 544.2,899C543.6,899.6 543.6,900.4 543.2,901C542.8,901.6 542.4,901.9 541.6,902.9C540.8,903.9 539.1,905 538.4,906.7C537.6,908.4 537.1,911.4 537.1,913.1C537.1,914.8 537.8,916 538.4,917C539,918 540.1,918.4 541,918.9C541.9,919.4 543.2,919.8 543.8,920.2C544.4,920.6 544.1,920.9 544.8,921.4C545.5,921.9 546.9,922.9 548,923C549.1,923.1 550.4,922.4 551.2,922C552.1,921.6 552.8,921 553.1,920.8"/>
<path class="s" d="M551.2,901.9C550.5,902.6 547.9,904.5 546.7,906.1C545.5,907.7 544.3,909.6 543.8,911.2C543.3,912.8 543.5,915 543.5,915.7"/>
<path class="s" d="M553.1,907C552.6,907.5 550.6,908.9 549.9,909.9C549.1,910.9 548.8,912 548.6,913.1C548.5,914.2 548.9,915.8 549,916.3"/>
<path class="s" d="M554.7,905.8L588.3,925.3"/>
<path class="s" d="M588.3,925.3C588.6,925.7 589.9,926.9 590.2,927.8C590.5,928.6 590,930 589.9,930.4"/>
<path class="s" d="M548.6,917L551.2,919.5"/>
<path class="s" d="M551.2,919.5L581.9,936.2"/>
<path class="s" d="M581.9,936.2C582.4,936.3 584.1,937 585.1,936.8C586.1,936.6 587.3,935.2 587.7,934.9"/>
<path class="s" d="M557.3,912.2L554.9,916.3"/>
<path class="s" d="M561.5,914.6L559.1,918.7"/>
<path class="s" d="M565.7,917L563.3,921.1"/>
<path class="s" d="M569.9,919.4L567.5,923.5"/>
<path class="s" d="M574.1,921.8L571.7,925.9"/>
<path class="s" d="M578.3,924.2L575.9,928.3"/>
<path class="s" d="M582.5,926.6L580.1,930.7"/>
<path class="s" d="M793.1,837.9C793,837.5 793.2,836.3 792.8,835.3C792.4,834.3 791.6,832.9 790.9,832.1C790.1,831.4 789,831 788.3,830.8C787.6,830.6 787.2,831.2 786.7,830.8C786.2,830.4 785.9,829.2 785.1,828.6C784.3,828 783,827.4 781.9,827.3C780.8,827.2 779.7,827.5 778.7,827.9C777.8,828.3 776.8,828.9 776.2,829.5C775.6,830.1 775.6,830.9 775.2,831.5C774.8,832.1 774.4,832.4 773.6,833.4C772.8,834.4 771.1,835.5 770.4,837.2C769.6,838.9 769.1,841.9 769.1,843.6C769.1,845.3 769.8,846.5 770.4,847.5C771,848.5 772.1,848.9 773,849.4C773.9,849.9 775.2,850.3 775.8,850.7C776.4,851.1 776.1,851.4 776.8,851.9C777.5,852.4 778.9,853.4 780,853.5C781.1,853.6 782.4,852.9 783.2,852.5C784.1,852.1 784.8,851.5 785.1,851.3"/>
<path class="s" d="M783.2,832.4C782.5,833.1 779.9,835 778.7,836.6C777.5,838.2 776.3,840.1 775.8,841.7C775.3,843.3 775.5,845.5 775.5,846.2"/>
<path class="s" d="M785.1,837.5C784.6,838 782.6,839.4 781.9,840.4C781.1,841.4 780.8,842.5 780.6,843.6C780.5,844.7 780.9,846.3 781,846.8"/>
<path class="s" d="M786.7,836.3L820.3,855.8"/>
<path class="s" d="M820.3,855.8C820.6,856.2 821.9,857.4 822.2,858.3C822.5,859.1 822,860.5 821.9,860.9"/>
<path class="s" d="M780.6,847.5L783.2,850"/>
<path class="s" d="M783.2,850L813.9,866.7"/>
<path class="s" d="M813.9,866.7C814.4,866.8 816.1,867.5 817.1,867.3C818.1,867.1 819.3,865.7 819.7,865.4"/>
<path class="s" d="M789.3,842.7L786.9,846.8"/>
<path class="s" d="M793.5,845.1L791.1,849.2"/>
<path class="s" d="M797.7,847.5L795.3,851.6"/>
<path class="s" d="M801.9,849.9L799.5,854"/>
<path class="s" d="M806.1,852.3L803.7,856.4"/>
<path class="s" d="M810.3,854.7L807.9,858.8"/>
<path class="s" d="M814.5,857.1L812.1,861.2"/>
<path class="s" d="M585.8,930.4L600,939"/>
<path class="s" d="M602.3,940.4L603.2,941"/>
<path class="s" d="M606,943L622,952"/>
<path class="s" d="M511,928.8L536.5,915.2"/>
<path class="s" d="M816.2,861.2L834.4,872.2 829.5,875"/>
<path class="s" d="M826.8,876.4L826.2,876.8"/>
<path class="s" d="M822.7,878.7L751.9,919.7"/>
<path class="s" d="M742.8,861.2L768.1,847.5"/>
<path class="ph" d="M709.6,578C707.5,580 700.8,586 697,590C693.2,594 689.3,599.1 686.8,602C684.3,604.9 682.8,606.5 682,607.4"/>
<path class="ph" d="M653.8,656L648.4,670.4"/>
<path class="t" d="M636.8,730C637.1,732 638,738 638.5,742C639,746 639.8,752 640,754"/>
<path class="ph" d="M649.8,778.2C651,779.6 654.2,783.9 656.8,786.6C659.4,789.3 662.2,792 665.2,794.3C668.2,796.6 671,798.3 675,800.6C679,802.9 684.3,805.6 689,808.3C693.7,811 698.3,814 703,816.7C707.7,819.4 712.3,822.7 717,824.4C721.7,826.1 726.3,826.7 731,826.9C735.7,827.1 740.3,826.6 745,825.8C749.7,825 753.2,824.2 759,822.3C764.8,820.4 770.4,820.1 780,814.6C789.6,809.1 806.3,797.8 816.8,789.2C827.3,780.6 835.4,772.7 842.8,763.2C850.2,753.7 855.8,742.4 861,732C866.2,721.6 870.7,711.5 874,700.8C877.3,690.1 879.4,676.5 880.8,668C882.2,659.5 882.4,656 882.6,650C882.8,644 882.7,638 882,632C881.3,626 880.2,620.4 878.4,614C876.6,607.6 873.6,598.8 871.2,593.6C868.8,588.4 867.2,586.4 864,582.8C860.8,579.2 857,575.4 852,572C847,568.6 840,565.6 834,562.4C828,559.2 821,555.4 816,552.8C811,550.2 808,548.4 804,546.8C800,545.2 796,543.9 792,543.2C788,542.5 785.3,541.8 780,542.4C774.7,543 763.3,546.2 760,547"/>
<path class="t" d="M799.2,568.4C801,568 806.4,566.4 810,565.8C813.6,565.2 819,565 820.8,564.8"/>
<path class="ph" d="M722,626C724,623.8 729.9,617.3 734,613C738.1,608.7 744.4,602.2 746.5,600"/>
<path class="s" d="M718,577.5C717.5,577.2 715.6,576.6 715,575.5C714.4,574.4 712.8,573.1 714.5,571C716.2,568.9 720.8,566 725,563C729.2,560 736,555.4 740,553C744,550.6 746.7,549.2 749,548.5C751.3,547.8 752.7,548.2 754,548.5C755.3,548.8 756.5,549.8 757,550"/>
<path class="s" d="M757,550L795.6,572.2 795.6,577.4 793.5,578.2"/>
<path class="s" d="M718,577.5L755,599"/>
<path class="s" d="M755,599C756.7,597.8 760.8,594.5 765,592C769.2,589.5 775.3,586.3 780,584C784.7,581.7 790.8,579 793,578"/>
<path class="s" d="M755.5,594.5C757.4,593.2 762.9,589.5 767,587C771.1,584.5 775.8,582 780,579.8C784.2,577.5 790,574.5 792,573.5"/>
<path class="s" d="M755,593.5L755,599"/>
<path class="s" d="M717.5,578C717.5,584 717.2,607.2 717.5,614C717.8,620.8 718.1,617.7 719,619C719.9,620.3 722.3,621.5 723,622"/>
<path class="s" d="M723,622L754,639"/>
<path class="s" d="M754,639C754.5,639.2 755.8,640.1 757,640C758.2,639.9 758.8,640.2 761,638.5C763.2,636.8 766.8,632.8 770,630C773.2,627.2 776.5,624.3 780,622C783.5,619.7 788.8,617.5 791,616C793.2,614.5 793.1,613.5 793.5,613"/>
<path class="s" d="M794,578L794,612"/>
<path class="s" d="M756,603L756,636.5"/>
<path class="s" d="M681.5,610.4L745.6,647.4"/>
<path class="s" d="M745.6,647.4C745.9,647.9 748,648.7 747.4,650.4C746.8,652.1 744.3,654.4 742,657.6C739.7,660.8 736,665.6 733.6,669.6C731.2,673.6 729.2,678 727.6,681.6C726,685.2 724.6,689.6 724,691.2"/>
<path class="s" d="M724,691.2L654.4,654"/>
<path class="s" d="M654.4,654C654.1,653.6 652.4,653 652.6,651.6C652.8,650.2 653.7,648.8 655.6,645.6C657.5,642.4 661.4,636.6 664,632.4C666.6,628.2 669.5,623.5 671.2,620.4C673,617.3 673.5,615.6 674.5,614C675.5,612.4 676.3,611.2 677.5,610.6C678.7,610 680.8,610.4 681.5,610.4"/>
<path class="s" d="M721.6,634.8C720,637 715,643.6 712,648C709,652.4 706.1,656.4 703.6,661.2C701.1,666 698.1,674.2 697,676.8"/>
<path class="s" d="M714,644L721,635"/>
<path class="s" d="M739.6,642L745.6,634.8"/>
<path class="s" d="M643.6,674.4C644.2,674.3 645.8,674 647,673.8C648.2,673.6 650.2,673.3 650.8,673.2"/>
<path class="s" d="M650.8,673.2L689.8,692.4"/>
<path class="s" d="M689.8,692.4C689.9,692.7 691,691.6 690.4,694.2C689.8,696.8 687.5,702.7 686.2,708C684.9,713.3 683.4,720 682.6,726C681.8,732 682.2,740.8 681.4,744C680.6,747.2 679,745.3 678,745.5C677,745.7 675.8,745.2 675.4,745.2"/>
<path class="s" d="M675.4,745.2L634,723"/>
<path class="s" d="M634,723C634.3,720.5 634.9,713.5 635.8,708C636.7,702.5 638.1,695.6 639.4,690C640.7,684.4 642.9,677 643.6,674.4"/>
<path class="s" d="M647.2,677.4L685,694.8"/>
<path class="s" d="M685,694.8C684.2,697 681.6,702.8 680.2,708C678.8,713.2 677.5,720.2 676.6,726C675.7,731.8 675.1,740 674.8,742.8"/>
<path class="s" d="M653.8,673.8L677.8,669"/>
<path class="s" d="M693.4,697.2L718.6,691.8"/>
<path class="s" d="M722.2,691.2C722,694 721.4,702 721,708C720.6,714 720.2,723.4 719.8,727.2C719.4,731 719.4,729.8 718.6,730.8C717.8,731.8 715.6,732.8 715,733.2"/>
<path class="s" d="M715,733.2L682.6,741.6"/>
<path class="hd" d="M691.6,678L687.4,688.2"/>
<path class="ph" d="M675.4,751.2C675.8,754.3 677.1,764.4 678,770C678.9,775.6 679.8,780.5 681,785C682.2,789.5 684.8,795 685.5,797"/>
<path class="s" d="M724.6,687.6C725.6,687.2 729.1,684.8 730.6,685.2C732.1,685.6 733.4,687.8 733.6,690C733.8,692.2 733.1,696 731.8,698.4C730.5,700.8 727.6,703.3 725.8,704.4C724,705.5 721.8,704.9 721,705"/>
<path class="s" d="M715.3,734.4L715.6,736.9 715.8,739.4 716.2,741.8 716.6,744.1 717.2,746.4 717.7,748.5 718.4,750.7 719.2,752.7 720,754.7 720.9,756.6 721.9,758.4 722.9,760.1 724,761.8 725.2,763.3 726.5,764.8 727.8,766.2 729.2,767.4 730.6,768.6 732.1,769.7 733.7,770.7 735.3,771.6 737,772.4 738.8,773.1 740.5,773.7 742.4,774.2 744.3,774.6 746.2,774.9 748.2,775.1 750.2,775.1 752.2,775.1 754.3,775 756.4,774.8 758.6,774.4 760.7,774 762.9,773.5 765.1,772.8 767.4,772.1 769.6,771.2 771.9,770.3 774.2,769.2 776.4,768.1 778.7,766.9 781,765.6"/>
<path class="s" d="M791.2,758.5L793.5,756.7 795.7,754.8 797.9,752.9 800.1,750.8 802.3,748.7 804.4,746.6 806.5,744.3 808.6,742 810.6,739.6 812.6,737.2 814.6,734.7 816.5,732.2 818.4,729.6 820.2,726.9 822,724.3 823.7,721.5 825.4,718.8 827,716 828.5,713.2 830,710.3 831.5,707.4 832.9,704.5 834.2,701.6 835.4,698.7 836.6,695.8 837.7,692.8 838.8,689.9 839.7,686.9 840.6,684 841.4,681.1 842.2,678.2 842.9,675.3 843.5,672.4 844,669.5 844.4,666.7 844.8,663.9 845.1,661.1 845.3,658.4 845.4,655.7 845.4,653.1 845.4,650.5 845.3,647.9 845.1,645.4 844.8,643 844.5,640.6 844,638.3 843.5,636 842.9,633.8 842.3,631.7 841.5,629.7 840.7,627.7 839.8,625.8 838.8,624 837.8,622.3 836.7,620.6 835.5,619 834.3,617.6 833,616.2 831.6,614.9 830.2,613.7 828.7,612.6 827.1,611.6 825.5,610.7 823.8,609.9 822.1,609.2 820.3,608.6 818.5,608.1 816.6,607.7 814.7,607.4 812.8,607.2 810.8,607.1 808.7,607.1 806.7,607.2 804.6,607.4 802.4,607.7 800.3,608.1 798.1,608.6 795.9,609.3 793.7,610"/>
<path class="s" d="M824.8,610.4C827.5,612.3 836.9,617.6 840.8,621.6C844.7,625.6 846.8,632.3 848,634.4"/>
<path class="s" d="M851.2,661.6C850.7,666.3 850.5,680.3 848,690C845.5,699.7 840.7,711 836,720C831.3,729 826,737.5 820,744C814,750.5 803.3,756.5 800,759"/>
<path class="s" d="M790,768C786.7,769.3 775.7,774.2 770,776C764.3,777.8 761,778.9 756,779C751,779.1 742.7,776.8 740,776.4"/>
<path class="s" d="M785.1,727.3L786.3,726.5 787.5,725.6 788.6,724.6 789.8,723.6 790.9,722.6 792.1,721.5 793.2,720.4 794.3,719.3 795.4,718.1 796.4,716.9 797.4,715.7 798.5,714.4 799.4,713.1 800.4,711.8 801.3,710.5 802.2,709.1 803.1,707.7 804,706.3 804.8,704.9 805.6,703.4 806.3,702 807,700.5 807.7,699 808.3,697.6 808.9,696.1 809.5,694.6 810,693.1 810.5,691.6 811,690.1 811.4,688.6 811.8,687.1 812.1,685.6 812.4,684.1 812.7,682.6 812.9,681.2 813,679.7 813.2,678.3 813.2,676.9 813.3,675.5 813.3,674.1 813.2,672.7 813.2,671.4 813,670.1 812.8,668.8 812.6,667.6 812.4,666.3 812.1,665.2 811.7,664 811.4,662.9 810.9,661.8 810.5,660.7 810,659.7 809.4,658.7 808.9,657.8 808.3,656.9 807.6,656 806.9,655.2 806.2,654.5 805.5,653.8 804.7,653.1 803.9,652.5 803,651.9 802.1,651.3 801.2,650.9 800.3,650.4 799.3,650.1 798.3,649.7 797.3,649.5 796.3,649.2 795.2,649.1 794.2,648.9 793.1,648.9 791.9,648.9 790.8,648.9 789.7,649 788.5,649.1 787.3,649.3 786.2,649.6 785,649.9 783.8,650.2 782.6,650.6 781.3,651 780.1,651.5 778.9,652.1 777.7,652.7 776.5,653.3 775.3,654 774,654.8 772.8,655.5 771.6,656.4 770.4,657.2 769.3,658.2 768.1,659.1 766.9,660.1 765.8,661.1 764.7,662.2 763.6,663.3 762.5,664.4 761.4,665.6 760.3,666.8 759.3,668.1 758.3,669.3 757.3,670.6 756.4,671.9 755.4,673.3 754.5,674.6 753.6,676 752.8,677.4 752,678.9 751.2,680.3 750.5,681.8 749.8,683.2 749.1,684.7 748.4,686.2 747.8,687.7 747.3,689.2 746.7,690.7 746.2,692.2 745.8,693.7 745.4,695.2 745,696.7 744.7,698.1 744.4,699.6 744.1,701.1 743.9,702.6 743.8,704 743.6,705.4 743.6,706.9 743.5,708.2 743.5,709.6 743.6,711 743.7,712.3 743.8,713.6 744,714.9 744.2,716.2 744.4,717.4 744.7,718.6 745.1,719.7 745.5,720.8 745.9,721.9 746.3,723 746.8,724 747.4,725 748,725.9 748.6,726.8 749.2,727.7 749.9,728.5 750.6,729.2 751.4,729.9 752.2,730.6 753,731.2 753.8,731.8 754.7,732.3 755.6,732.8 756.6,733.2 757.5,733.6 758.5,733.9 759.5,734.2 760.6,734.4 761.6,734.6 762.7,734.7 763.8,734.8 764.9,734.8 766,734.8 767.2,734.7 768.4,734.5 769.5,734.3 770.7,734.1 771.9,733.8 773.1,733.4 774.3,733 775.5,732.6 776.7,732.1 778,731.5 779.2,730.9 780.4,730.3 781.6,729.6"/>
<path class="s" d="M769,659.7C768.2,662.5 766.3,671.2 764,676.2C761.7,681.2 758,686 755,690C752,694 747.4,698.7 745.9,700.4"/>
<path class="s" d="M811.4,621.5L811.6,621.1 811.8,620.8 812,620.5 812.3,620.1 812.5,619.8 812.8,619.5 813,619.2 813.3,618.9 813.5,618.6 813.8,618.3 814.1,618.1 814.3,617.8 814.6,617.5 814.9,617.3 815.2,617.1 815.5,616.8 815.8,616.6 816.1,616.4 816.4,616.2 816.7,616 817,615.9 817.3,615.7 817.6,615.6 817.9,615.4 818.3,615.3 818.6,615.2 818.9,615.1 819.2,615 819.5,614.9 819.8,614.9 820.1,614.8 820.4,614.8 820.7,614.8 821,614.8 821.3,614.8 821.6,614.8 821.9,614.8 822.2,614.9 822.4,614.9 822.7,615 823,615.1 823.2,615.2 823.5,615.3 823.7,615.4 824,615.5 824.2,615.7 824.4,615.8 824.7,616 824.9,616.2 825.1,616.4 825.3,616.6 825.4,616.8 825.6,617 825.8,617.2 826,617.5 826.1,617.7 826.2,618 826.4,618.3 826.5,618.5 826.6,618.8 826.7,619.1 826.8,619.4 826.9,619.7 826.9,620.1 827,620.4 827,620.7 827.1,621.1 827.1,621.4 827.1,621.7 827.1,622.1 827.1,622.5 827.1,622.8 827.1,623.2 827,623.5 827,623.9 826.9,624.3 826.8,624.6 826.8,625 826.7,625.4 826.6,625.8 826.5,626.1 826.3,626.5 826.2,626.9 826.1,627.2 825.9,627.6 825.7,628 825.6,628.3 825.4,628.7 825.2,629 825,629.4 824.8,629.7 824.6,630.1 824.4,630.4 824.1,630.7 823.9,631.1 823.7,631.4 823.4,631.7 823.1,632 822.9,632.3 822.6,632.5 822.3,632.8 822.1,633.1 821.8,633.3 821.5,633.6 821.2,633.8 820.9,634 820.6,634.3 820.3,634.5 820,634.7 819.7,634.8 819.4,635 819.1,635.2 818.8,635.3 818.5,635.5 818.2,635.6 817.8,635.7 817.5,635.8 817.2,635.9 816.9,635.9 816.6,636 816.3,636 816,636.1 815.7,636.1 815.4,636.1 815.1,636.1 814.8,636.1 814.5,636.1 814.2,636 814,636 813.7,635.9 813.4,635.8 813.2,635.7 812.9,635.6 812.7,635.5 812.4,635.3 812.2,635.2 812,635 811.8,634.9 811.5,634.7 811.3,634.5 811.1,634.3 811,634.1 810.8,633.9 810.6,633.6 810.5,633.4 810.3,633.1 810.2,632.9 810,632.6 809.9,632.3 809.8,632 809.7,631.7 809.6,631.4 809.5,631.1 809.5,630.8 809.4,630.5 809.4,630.2 809.3,629.8 809.3,629.5 809.3,629.1 809.3,628.8 809.3,628.4 809.3,628.1 809.3,627.7 809.4,627.3 809.4,627 809.5,626.6 809.6,626.2 809.6,625.9 809.7,625.5 809.8,625.1 810,624.7 810.1,624.4 810.2,624 810.4,623.6 810.5,623.3 810.7,622.9 810.8,622.5 811,622.2 811.2,621.8Z"/>
<path class="s" d="M775.2,741.7L775.3,741.4 775.5,741.1 775.7,740.7 775.9,740.4 776.1,740.1 776.3,739.8 776.5,739.5 776.8,739.2 777,739 777.2,738.7 777.5,738.4 777.7,738.2 778,737.9 778.2,737.7 778.5,737.5 778.7,737.2 779,737 779.3,736.8 779.5,736.6 779.8,736.5 780.1,736.3 780.4,736.1 780.6,736 780.9,735.8 781.2,735.7 781.5,735.6 781.8,735.5 782.1,735.4 782.3,735.3 782.6,735.3 782.9,735.2 783.2,735.2 783.5,735.1 783.7,735.1 784,735.1 784.3,735.1 784.5,735.1 784.8,735.1 785.1,735.2 785.3,735.2 785.6,735.3 785.8,735.4 786,735.5 786.3,735.6 786.5,735.7 786.7,735.8 786.9,735.9 787.2,736.1 787.4,736.2 787.6,736.4 787.7,736.6 787.9,736.8 788.1,737 788.3,737.2 788.4,737.4 788.6,737.6 788.7,737.9 788.8,738.1 789,738.4 789.1,738.6 789.2,738.9 789.3,739.2 789.4,739.5 789.4,739.7 789.5,740 789.6,740.3 789.6,740.7 789.7,741 789.7,741.3 789.7,741.6 789.7,741.9 789.7,742.3 789.7,742.6 789.7,742.9 789.7,743.3 789.6,743.6 789.6,744 789.5,744.3 789.4,744.7 789.4,745 789.3,745.4 789.2,745.7 789.1,746.1 789,746.4 788.8,746.7 788.7,747.1 788.6,747.4 788.4,747.8 788.3,748.1 788.1,748.4 787.9,748.8 787.7,749.1 787.5,749.4 787.3,749.7 787.1,750 786.9,750.3 786.7,750.6 786.5,750.9 786.3,751.2 786,751.4 785.8,751.7 785.5,752 785.3,752.2 785,752.4 784.8,752.7 784.5,752.9 784.3,753.1 784,753.3 783.7,753.5 783.4,753.7 783.2,753.8 782.9,754 782.6,754.1 782.3,754.3 782,754.4 781.8,754.5 781.5,754.6 781.2,754.7 780.9,754.8 780.6,754.9 780.3,754.9 780.1,755 779.8,755 779.5,755 779.2,755 779,755 778.7,755 778.5,755 778.2,754.9 777.9,754.9 777.7,754.8 777.4,754.7 777.2,754.7 777,754.6 776.7,754.4 776.5,754.3 776.3,754.2 776.1,754 775.9,753.9 775.7,753.7 775.5,753.5 775.3,753.4 775.2,753.2 775,752.9 774.8,752.7 774.7,752.5 774.5,752.3 774.4,752 774.3,751.8 774.2,751.5 774.1,751.2 774,751 773.9,750.7 773.8,750.4 773.7,750.1 773.7,749.8 773.6,749.5 773.6,749.2 773.6,748.8 773.5,748.5 773.5,748.2 773.5,747.9 773.5,747.5 773.6,747.2 773.6,746.8 773.6,746.5 773.7,746.2 773.7,745.8 773.8,745.5 773.9,745.1 774,744.8 774.1,744.4 774.2,744.1 774.3,743.7 774.4,743.4 774.5,743 774.7,742.7 774.8,742.4 775,742Z"/>
<path class="s" d="M782.3,477.5L782.3,464.4"/>
<path class="s" d="M782.3,481.3L782.3,484"/>
<path class="s" d="M782.3,487.4L782.3,537.6"/>
<path class="hd" d="M782.4,543L782.4,605 806.4,619.2"/>
<path class="s" d="M873.6,595.2L899.2,581.6"/>
<path class="s" d="M571.4,793.2C571.3,791.8 570.4,787.4 570.8,784.8C571.2,782.2 572.1,779.5 573.8,777.6C575.5,775.7 578.2,774.8 581,773.4C583.8,772 587.4,770.9 590.6,769.2C593.8,767.5 597.6,764.5 600.2,763.2C602.8,761.9 604.2,761.5 606.2,761.4C608.2,761.3 610,761.5 612.2,762.6C614.4,763.7 617,765.7 619.4,768C621.8,770.3 624.8,773.6 626.6,776.4C628.4,779.2 629.4,782.2 630.2,784.8C631,787.4 631.2,790.8 631.4,792"/>
<path class="s" d="M631.4,792L631.4,829.8"/>
<path class="s" d="M631.4,829.8C630.7,830.2 628.4,831.7 627,832.5C625.6,833.3 624.6,834.6 623,834.6C621.4,834.6 618.5,832.6 617.6,832.2"/>
<path class="s" d="M593,770.4C594.6,771.6 599.8,775 602.6,777.6C605.4,780.2 607.8,783 609.8,786C611.8,789 613.5,792.6 614.6,795.6C615.7,798.6 616.1,802.6 616.4,804"/>
<path class="s" d="M616.4,804L617,837.6"/>
<path class="s" d="M617,837.6L608,842.4 595.4,835.2"/>
<path class="s" d="M601.4,766.8C603.2,768 609.2,771 612.2,774C615.2,777 617.8,781.4 619.4,784.8C621,788.2 621.4,792.8 621.8,794.4"/>
<path class="s" d="M622.4,800.4L623,831.6"/>
<path class="s" d="M587,775.2C588.6,776.2 593.8,778.8 596.6,781.2C599.4,783.6 602,786.2 603.8,789.6C605.6,793 606.8,799.6 607.4,801.6"/>
<path class="s" d="M607.4,808.8L608.6,840"/>
<path class="s" d="M555.8,806.4L579.8,791.4"/>
<path class="s" d="M579.8,791.4C580.8,791.4 583.6,790.5 585.8,791.4C588,792.3 590.8,794.3 593,796.8C595.2,799.3 597.6,803 599,806.4C600.4,809.8 601.2,813.8 601.4,817.2C601.6,820.6 601.2,824 600.2,826.8C599.2,829.6 596.2,832.8 595.4,834"/>
<path class="s" d="M595.4,834L565.4,838.8"/>
<path class="s" d="M555.8,806.4C555.2,806.8 553,807.8 552.2,808.8C551.4,809.8 551.2,811.8 551,812.4"/>
<path class="s" d="M557,807.6C558.2,808.2 562.2,809.6 564.2,811.2C566.2,812.8 567.8,814.8 569,817.2C570.2,819.6 571.3,822.8 571.4,825.6C571.5,828.4 570.5,831.9 569.6,834C568.7,836.1 566.6,837.5 566,838.2"/>
<path class="s" d="M552.2,812.4C553.4,812.6 557.4,812.4 559.4,813.6C561.4,814.8 563.1,817.4 564.2,819.6C565.3,821.8 566,824.4 566,826.8C566,829.2 564.9,832.3 564.2,834C563.5,835.7 562.2,836.5 561.8,837"/>
<path class="s" d="M552.2,813L509.6,835.2"/>
<path class="s" d="M561.8,836.4L545,842.4 519.6,856.4"/>
<path class="s" d="M509.6,835.2C509.4,835.5 508.5,836.2 508.4,837.2C508.3,838.2 508.3,840 508.8,841.2C509.3,842.4 510.6,843.7 511.6,844.4C512.6,845.1 514.3,845.4 514.8,845.6"/>
<path class="s" d="M513.6,846.8C513.6,847.5 513.2,849.6 513.6,850.8C514,852 515,853.1 516,854C517,854.9 519,856 519.6,856.4"/>
<path class="s" d="M518,845.6C518.5,846.1 520.1,847.4 520.8,848.4C521.5,849.4 521.8,851.1 522,851.6"/>
<path class="s" d="M619.4,766.8L649.4,751.8"/>
<path class="s" d="M631.4,786L672,767"/>
<path class="s" d="M639.4,798.1C640.4,798.9 643.7,801.2 645.5,802.6C647.3,804 647.4,804.1 650,806.8C652.6,809.5 656.9,814.4 661,818.8C665.1,823.2 669.4,827.1 674.5,833.2C679.6,839.4 688.8,852 691.6,855.7"/>
<path class="s" d="M632.2,811.6C634,813.4 639,818.2 643,822.4C647,826.6 652,831.7 656.5,836.8C661,841.9 666,848 670,853C674,858 679,864.2 680.8,866.5"/>
<path class="s" d="M691.6,855.7C691.9,856.5 693.4,858.7 693.4,860.2C693.4,861.7 692.5,863.5 691.6,864.7C690.7,865.9 689.4,866.8 688,867.4C686.6,868 684.7,868.4 683.5,868.3C682.3,868.1 681.2,866.8 680.8,866.5"/>
<path class="s" d="M687.1,868.3C687.8,869.2 690,872 691,874C692,876 692.7,876.8 693.4,880C694.1,883.2 694.8,888.5 695.2,893C695.7,897.5 696,904.7 696.1,907"/>
<path class="s" d="M692.5,864.7C693.2,866.1 695.7,869.8 697,872.8C698.3,875.8 699.5,879.2 700.5,883C701.5,886.8 702.8,893.2 703.3,895.3"/>
<path class="s" d="M375.8,901.6L487.2,846.4"/>
<path class="s" d="M487.2,846.4C487.5,846.3 488,845.4 488.8,845.6C489.6,845.8 491,846.7 492,847.6C493,848.5 494.3,850 494.8,851.2C495.3,852.4 495.3,853.9 495.2,854.8C495.1,855.7 494.2,856.1 494,856.4"/>
<path class="s" d="M494.8,856C495.3,856.1 496.9,855.9 498,856.4C499.1,856.9 500.4,858.1 501.2,859.2C502,860.3 502.7,862.1 502.8,863.2C502.9,864.3 502.1,865.2 502,865.6"/>
<path class="s" d="M502,865.6C500.8,866.4 497.5,868.8 495,870.5C492.5,872.2 488.5,874.8 487.2,875.6"/>
<path class="s" d="M487.2,875.6L385,924.5"/>
<path class="s" d="M486.4,851.2C486.7,851.7 487.1,853.1 488,854C488.9,854.9 491,856 491.6,856.4"/>
<path class="s" d="M374.3,915L374.2,914.7 374,914.3 373.9,913.9 373.8,913.5 373.7,913.1 373.6,912.7 373.5,912.3 373.4,912 373.4,911.6 373.3,911.2 373.3,910.8 373.2,910.4 373.2,910.1 373.2,909.7 373.1,909.3 373.1,908.9 373.2,908.6 373.2,908.2 373.2,907.9 373.2,907.5 373.3,907.2 373.3,906.8 373.4,906.5 373.5,906.2 373.5,905.9 373.6,905.6 373.7,905.3 373.8,905 374,904.7 374.1,904.4 374.2,904.2 374.4,903.9 374.5,903.7 374.7,903.5 374.8,903.2 375,903 375.2,902.8 375.4,902.7 375.6,902.5 375.8,902.3 376,902.2 376.2,902 376.4,901.9 376.6,901.8 376.9,901.7 377.1,901.6 377.3,901.6 377.6,901.5 377.8,901.5 378.1,901.4 378.3,901.4 378.6,901.4 378.8,901.4 379.1,901.5 379.4,901.5 379.6,901.6 379.9,901.6 380.2,901.7 380.5,901.8 380.7,901.9 381,902 381.3,902.2 381.5,902.3 381.8,902.5 382.1,902.6 382.4,902.8 382.6,903 382.9,903.2 383.1,903.4 383.4,903.6 383.7,903.9 383.9,904.1 384.2,904.4 384.4,904.7 384.7,904.9 384.9,905.2 385.1,905.5 385.4,905.8 385.6,906.1 385.8,906.4 386,906.8 386.2,907.1 386.4,907.5 386.6,907.8 386.8,908.2 387,908.5 387.1,908.9 387.3,909.2 387.4,909.6 387.6,910 387.7,910.4 387.9,910.7 388,911.1 388.1,911.5 388.2,911.9 388.3,912.3 388.4,912.7 388.5,913.1 388.5,913.4 388.6,913.8 388.6,914.2 388.7,914.6 388.7,915 388.7,915.3 388.8,915.7 388.8,916.1 388.8,916.5 388.7,916.8 388.7,917.2 388.7,917.5 388.6,917.9 388.6,918.2 388.5,918.5 388.4,918.8 388.4,919.2 388.3,919.5 388.2,919.8 388.1,920 387.9,920.3 387.8,920.6 387.7,920.9 387.5,921.1 387.4,921.3 387.2,921.6 387.1,921.8 386.9,922 386.7,922.2 386.5,922.4 386.3,922.5 386.1,922.7 385.9,922.8 385.7,923 385.5,923.1 385.3,923.2 385.1,923.3 384.8,923.4 384.6,923.4 384.3,923.5 384.1,923.5 383.8,923.6 383.6,923.6 383.3,923.6 383.1,923.6 382.8,923.5 382.5,923.5 382.3,923.5 382,923.4 381.7,923.3 381.5,923.2 381.2,923.1 380.9,923 380.6,922.9 380.4,922.7 380.1,922.6 379.8,922.4 379.6,922.2 379.3,922 379,921.8 378.8,921.6 378.5,921.4 378.2,921.1 378,920.9 377.7,920.6 377.5,920.4 377.2,920.1 377,919.8 376.8,919.5 376.5,919.2 376.3,918.9 376.1,918.6 375.9,918.2 375.7,917.9 375.5,917.6 375.3,917.2 375.1,916.9 374.9,916.5 374.8,916.1 374.6,915.8 374.5,915.4Z"/>
<path class="s" d="M377.8,914.8L377.7,914.5 377.6,914.2 377.5,914 377.4,913.7 377.4,913.4 377.3,913.2 377.2,912.9 377.2,912.6 377.1,912.4 377.1,912.1 377.1,911.8 377,911.6 377,911.3 377,911 377,910.8 377,910.5 377,910.3 377,910 377,909.8 377,909.5 377.1,909.3 377.1,909 377.2,908.8 377.2,908.6 377.3,908.4 377.3,908.1 377.4,907.9 377.5,907.7 377.6,907.5 377.6,907.4 377.7,907.2 377.8,907 377.9,906.8 378.1,906.7 378.2,906.5 378.3,906.4 378.4,906.2 378.5,906.1 378.7,906 378.8,905.9 379,905.8 379.1,905.7 379.3,905.6 379.4,905.5 379.6,905.5 379.7,905.4 379.9,905.4 380.1,905.3 380.3,905.3 380.4,905.3 380.6,905.3 380.8,905.3 381,905.3 381.2,905.3 381.3,905.3 381.5,905.3 381.7,905.4 381.9,905.4 382.1,905.5 382.3,905.6 382.5,905.7 382.7,905.8 382.9,905.9 383.1,906 383.2,906.1 383.4,906.2 383.6,906.4 383.8,906.5 384,906.6 384.2,906.8 384.4,907 384.5,907.1 384.7,907.3 384.9,907.5 385,907.7 385.2,907.9 385.4,908.1 385.5,908.3 385.7,908.5 385.8,908.8 386,909 386.1,909.2 386.3,909.5 386.4,909.7 386.5,910 386.7,910.2 386.8,910.5 386.9,910.7 387,911 387.1,911.2 387.2,911.5 387.3,911.8 387.4,912 387.5,912.3 387.5,912.6 387.6,912.9 387.7,913.1 387.7,913.4 387.8,913.7 387.8,913.9 387.8,914.2 387.9,914.5 387.9,914.7 387.9,915 387.9,915.3 387.9,915.5 387.9,915.8 387.9,916 387.9,916.3 387.9,916.5 387.8,916.8 387.8,917 387.7,917.2 387.7,917.4 387.6,917.7 387.6,917.9 387.5,918.1 387.4,918.3 387.3,918.5 387.3,918.7 387.2,918.8 387.1,919 387,919.2 386.9,919.4 386.7,919.5 386.6,919.6 386.5,919.8 386.4,919.9 386.2,920 386.1,920.1 385.9,920.2 385.8,920.3 385.6,920.4 385.5,920.5 385.3,920.6 385.2,920.6 385,920.7 384.8,920.7 384.6,920.7 384.5,920.8 384.3,920.8 384.1,920.8 383.9,920.8 383.7,920.7 383.6,920.7 383.4,920.7 383.2,920.6 383,920.6 382.8,920.5 382.6,920.4 382.4,920.4 382.2,920.3 382,920.2 381.8,920 381.7,919.9 381.5,919.8 381.3,919.7 381.1,919.5 380.9,919.4 380.7,919.2 380.6,919.1 380.4,918.9 380.2,918.7 380,918.5 379.9,918.3 379.7,918.1 379.5,917.9 379.4,917.7 379.2,917.5 379.1,917.3 378.9,917 378.8,916.8 378.6,916.6 378.5,916.3 378.4,916.1 378.2,915.8 378.1,915.6 378,915.3 377.9,915Z"/>
<path class="s" d="M409.7,899.9C411,900.2 414.9,900.6 417.4,901.6C419.8,902.6 423.2,905.1 424.4,905.8"/>
<path class="s" d="M413.9,889C415.6,889.6 420.9,890.6 424.4,892.5C427.9,894.4 433.1,898.9 434.9,900.2"/>
<path class="s" d="M426.9,883C428.6,883.5 433.6,884.3 437,886.2C440.4,888.1 445.5,893.2 447.2,894.6"/>
<path class="s" d="M442.3,878.9C443.8,879.6 448.4,881.5 451,883.4C453.6,885.3 456.8,889.2 458,890.4"/>
<path class="s" d="M340.4,920.8C343.5,919.5 352.3,915 359,913C365.7,911 377,909.5 380.6,908.8"/>
<path class="s" d="M341.6,925C344.5,923.7 352.4,919.3 359,917.2C365.6,915.1 377.5,913.2 381.2,912.4"/>
<path class="s" d="M351.2,952.6C353.7,949 361.7,937.6 366.2,931C370.7,924.4 376.2,916 378.2,913"/>
<path class="s" d="M355.4,954.4C357.8,950.9 365.3,940.1 369.8,933.4C374.3,926.7 380.3,917.4 382.4,914.2"/>
<path class="s" d="M282.2,931L304.4,918.4 327.8,931.6 327.8,950.2 306.8,962.2 282.2,949.6 282.2,945.4"/>
<path class="s" d="M311,920.8L323.6,913.6 340.4,923.2 340.4,936.4 329.6,943"/>
<path class="s" d="M327.8,931.6L336.2,926.8"/>
<path class="s" d="M280.4,943L284,931 287,929.8 294.2,933.4 294.2,940.6"/>
<path class="s" d="M280.4,943L287.6,947.2 308.6,935.8"/>
<path class="s" d="M296,942.4L322.4,935.8"/>
<path class="s" d="M294.2,933.4L304.4,929.2"/>
<path class="s" d="M301.4,947.8L301.4,955"/>
<path class="s" d="M306.8,946.6L306.8,959.2"/>
<path class="s" d="M297.8,944.2L306.8,946.6"/>
<path class="s" d="M330.2,957.4L343.4,950.8 360.2,960.4 360.2,973.6 347.6,980.8"/>
<path class="s" d="M347.6,967.6L354.8,964"/>
<path class="s" d="M302,967L323.6,956.2 347.6,968.8 347.6,988 326,1000.6 302,986.8 302,967"/>
<path class="s" d="M305,970L326,981.4 341.6,973"/>
<path class="s" d="M326,981.4L326,999.4"/>
<path class="s" d="M306.8,976.6L321.2,985 321.2,991.6"/>
<path class="s" d="M687,927C687.5,926.2 689,924 690,922C691,920 692,917.5 693,915C694,912.5 694,909.5 696,907C698,904.5 701.3,901.6 705,900C708.7,898.4 713.8,897.5 718,897.5C722.2,897.5 726.3,898.4 730,900C733.7,901.6 737.2,904.3 740,907C742.8,909.7 745.5,913.3 747,916C748.5,918.7 748.8,920.3 749,923C749.2,925.7 748.5,929.7 748,932C747.5,934.3 746.3,936.2 746,937"/>
<path class="s" d="M747,936L741,950"/>
<path class="s" d="M719.5,929L719.1,928.9 718.7,928.8 718.3,928.7 718,928.5 717.6,928.4 717.2,928.2 716.9,928 716.5,927.9 716.2,927.7 715.9,927.5 715.5,927.3 715.2,927.1 714.9,926.8 714.6,926.6 714.3,926.4 714,926.1 713.7,925.9 713.5,925.6 713.2,925.4 713,925.1 712.7,924.8 712.5,924.5 712.3,924.2 712.1,924 711.9,923.7 711.7,923.4 711.5,923.1 711.4,922.7 711.2,922.4 711.1,922.1 711,921.8 710.9,921.5 710.8,921.2 710.7,920.9 710.7,920.5 710.6,920.2 710.6,919.9 710.6,919.6 710.6,919.3 710.6,918.9 710.6,918.6 710.6,918.3 710.7,918 710.7,917.7 710.8,917.4 710.9,917.1 711,916.8 711.1,916.5 711.2,916.2 711.4,915.9 711.5,915.7 711.7,915.4 711.9,915.1 712.1,914.9 712.3,914.6 712.5,914.4 712.7,914.1 712.9,913.9 713.2,913.7 713.4,913.4 713.7,913.2 714,913 714.3,912.9 714.6,912.7 714.9,912.5 715.2,912.3 715.5,912.2 715.8,912.1 716.2,911.9 716.5,911.8 716.9,911.7 717.2,911.6 717.6,911.5 717.9,911.4 718.3,911.4 718.7,911.3 719.1,911.2 719.4,911.2 719.8,911.2 720.2,911.2 720.6,911.2 721,911.2 721.4,911.2 721.8,911.2 722.2,911.3 722.6,911.3 723,911.4 723.3,911.5 723.7,911.6 724.1,911.7 724.5,911.8 724.9,911.9 725.3,912 725.6,912.2 726,912.3 726.4,912.5 726.7,912.6 727.1,912.8 727.4,913 727.7,913.2 728.1,913.4 728.4,913.6 728.7,913.8 729,914.1 729.3,914.3 729.6,914.5 729.9,914.8 730.1,915 730.4,915.3 730.6,915.6 730.9,915.9 731.1,916.1 731.3,916.4 731.5,916.7 731.7,917 731.9,917.3 732.1,917.6 732.2,917.9 732.4,918.2 732.5,918.5 732.6,918.9 732.7,919.2 732.8,919.5 732.9,919.8 732.9,920.1 733,920.4 733,920.8 733,921.1 733,921.4 733,921.7 733,922 733,922.4 732.9,922.7 732.9,923 732.8,923.3 732.7,923.6 732.6,923.9 732.5,924.2 732.4,924.5 732.2,924.7 732.1,925 731.9,925.3 731.7,925.6 731.5,925.8 731.3,926.1 731.1,926.3 730.9,926.5 730.7,926.8 730.4,927 730.2,927.2 729.9,927.4 729.6,927.6 729.3,927.8 729,928 728.7,928.2 728.4,928.3 728.1,928.5 727.8,928.6 727.4,928.7 727.1,928.9 726.7,929 726.4,929.1 726,929.2 725.7,929.2 725.3,929.3 724.9,929.4 724.5,929.4 724.2,929.5 723.8,929.5 723.4,929.5 723,929.5 722.6,929.5 722.2,929.5 721.8,929.4 721.4,929.4 721,929.3 720.6,929.3 720.3,929.2 719.9,929.1Z"/>
<path class="s" d="M699.5,929.5C701.2,931.1 705.8,936.8 710,939C714.2,941.2 720.3,942.7 725,943C729.7,943.3 735.8,941.3 738,941"/>
<path class="s" d="M690,935C691.3,936.8 694.7,942.8 698,946C701.3,949.2 705.8,952.3 710,954C714.2,955.7 718.9,956.2 723,956C727.1,955.8 732.6,953.1 734.5,952.5"/>
<path class="hd" d="M735.5,928.5L747,922.5"/>
<path class="hd" d="M736,929L745,934"/>
<path class="s" d="M682,941L696.5,958"/>
<path class="s" d="M696.5,958C696.8,958.4 697.4,959.8 698,960.5C698.6,961.2 699.7,961.8 700,962"/>
<path class="s" d="M700,962L745,959"/>
<path class="s" d="M701.5,966L688.5,994.5"/>
<path class="s" d="M745,948C746,949.3 750.2,953.5 751,956C751.8,958.5 750.2,961.8 750,963"/>
<path class="s" d="M750,963L738,993"/>
<path class="s" d="M738,993C737.3,994 736.2,997.5 734,999C731.8,1000.5 726.5,1001.5 725,1002"/>
<path class="s" d="M725,1002L695,1005"/>
<path class="s" d="M695,1005C693.3,1004.3 687.5,1002.5 685,1001C682.5,999.5 680.8,996.8 680,996"/>
<path class="s" d="M680,996L663,971"/>
<path class="s" d="M702.5,982L730.5,980"/>
<path class="s" d="M700.5,994.5L729,992"/>
<path class="s" d="M744,944C745,942.8 748,939 750,937C752,935 753.5,933.5 756,932C758.5,930.5 762.3,928.2 765,928C767.7,927.8 770.4,929.5 772,931C773.6,932.5 774.2,934.5 774.5,937C774.8,939.5 774.6,943.2 773.5,946C772.4,948.8 770.2,951.8 768,954C765.8,956.2 762.7,957.8 760,959C757.3,960.2 753.3,960.7 752,961"/>
<path class="s" d="M749,944L765,930"/>
<path class="s" d="M757.3,941.7L757.4,941.5 757.5,941.3 757.7,941 757.8,940.8 758,940.6 758.1,940.4 758.3,940.2 758.5,940.1 758.6,939.9 758.8,939.7 759,939.5 759.2,939.4 759.3,939.2 759.5,939 759.7,938.9 759.9,938.7 760.1,938.6 760.3,938.5 760.5,938.4 760.7,938.2 760.9,938.1 761.1,938 761.3,937.9 761.5,937.9 761.7,937.8 761.9,937.7 762.1,937.7 762.3,937.6 762.5,937.6 762.7,937.5 762.9,937.5 763.1,937.5 763.3,937.5 763.4,937.5 763.6,937.5 763.8,937.5 764,937.5 764.2,937.5 764.4,937.6 764.5,937.6 764.7,937.7 764.9,937.7 765,937.8 765.2,937.9 765.4,938 765.5,938.1 765.7,938.2 765.8,938.3 765.9,938.4 766.1,938.5 766.2,938.6 766.3,938.8 766.4,938.9 766.5,939.1 766.6,939.2 766.7,939.4 766.8,939.6 766.9,939.7 767,939.9 767,940.1 767.1,940.3 767.2,940.5 767.2,940.7 767.3,940.9 767.3,941.1 767.3,941.3 767.3,941.5 767.4,941.8 767.4,942 767.4,942.2 767.4,942.4 767.4,942.7 767.3,942.9 767.3,943.1 767.3,943.4 767.2,943.6 767.2,943.8 767.1,944.1 767.1,944.3 767,944.5 766.9,944.8 766.9,945 766.8,945.3 766.7,945.5 766.6,945.7 766.5,946 766.4,946.2 766.2,946.4 766.1,946.6 766,946.9 765.9,947.1 765.7,947.3 765.6,947.5 765.4,947.7 765.3,947.9 765.1,948.1 765,948.3 764.8,948.5 764.6,948.7 764.5,948.9 764.3,949 764.1,949.2 763.9,949.4 763.7,949.5 763.5,949.7 763.4,949.8 763.2,949.9 763,950.1 762.8,950.2 762.6,950.3 762.4,950.4 762.2,950.5 762,950.6 761.8,950.7 761.6,950.8 761.4,950.8 761.2,950.9 761,950.9 760.8,951 760.6,951 760.4,951.1 760.2,951.1 760,951.1 759.8,951.1 759.6,951.1 759.4,951.1 759.2,951.1 759.1,951 758.9,951 758.7,950.9 758.5,950.9 758.4,950.8 758.2,950.7 758.1,950.7 757.9,950.6 757.7,950.5 757.6,950.4 757.5,950.3 757.3,950.2 757.2,950 757.1,949.9 757,949.8 756.8,949.6 756.7,949.5 756.6,949.3 756.5,949.2 756.4,949 756.4,948.8 756.3,948.6 756.2,948.4 756.2,948.3 756.1,948.1 756,947.9 756,947.7 756,947.4 755.9,947.2 755.9,947 755.9,946.8 755.9,946.6 755.9,946.4 755.9,946.1 755.9,945.9 755.9,945.7 755.9,945.4 756,945.2 756,945 756.1,944.7 756.1,944.5 756.2,944.2 756.2,944 756.3,943.8 756.4,943.5 756.5,943.3 756.6,943.1 756.7,942.8 756.8,942.6 756.9,942.4 757,942.1 757.1,941.9Z"/>
<path class="s" d="M762.5,939C762,939.7 760.2,941.5 759.5,943C758.8,944.5 758.2,947.2 758,948"/>
<path class="s" d="M752,920L780,903.3"/>
<path class="s" d="M667.8,943.8C668.3,942.3 669.7,937.5 671,935C672.3,932.5 674.1,930.5 675.8,928.6C677.5,926.7 679.5,924.8 681.4,923.8C683.3,922.8 685.7,922.6 687,922.6C688.3,922.6 689,923.6 689.4,923.8"/>
<path class="s" d="M681.4,927.8L687,935.8 681.4,937.4"/>
<path class="s" d="M681.4,937.4C680.9,937.9 679.1,939.1 678.2,940.6C677.3,942.1 676.2,945.3 675.8,946.2"/>
<path class="s" d="M623,955C623.9,953.9 626.6,950.4 628.6,948.6C630.6,946.8 633.1,945.1 635,944.2C636.9,943.3 638.3,943.3 639.8,943.4C641.3,943.5 642.5,944 643.8,944.6C645.1,945.2 646.6,946.7 647.8,947C649,947.3 649.5,947.4 651,946.6C652.5,945.8 655.1,942.9 656.6,942.2C658.1,941.5 658.5,942.1 659.8,942.6C661.1,943.1 663.3,944.9 664.6,945.4C665.9,945.9 666.9,945.5 667.8,945.4C668.7,945.3 669.5,944.7 670.2,945C670.9,945.3 671.5,946.7 671.8,947"/>
<path class="s" d="M671.8,947L675.8,962.2"/>
<path class="s" d="M675.8,966.2C675.3,966.7 673.7,968.7 672.6,969.4C671.5,970.1 670.7,970.3 669.4,970.2C668.1,970.1 665.4,968.9 664.6,968.6"/>
<path class="s" d="M664.6,968.6L651,960.6"/>
<path class="s" d="M651,960.6C650.3,960.7 648.3,960.5 647,961.4C645.7,962.3 644.6,964.3 643,966.2C641.4,968.1 639.4,971.1 637.4,972.6C635.4,974.1 633,975 631,975C629,975 626.9,973.9 625.4,972.6C623.9,971.3 622.3,969.1 621.8,967C621.3,964.9 622,961.8 622.2,959.8C622.4,957.8 622.9,955.8 623,955"/>
<path class="s" d="M625,969.4C625.2,967.8 625.2,962.9 626.2,959.8C627.2,956.7 629.1,953.3 631,951C632.9,948.7 635.8,947.1 637.4,946.2C639,945.3 640.1,945.5 640.6,945.4"/>
<path class="s" d="M648.6,947.8C649.3,947.7 651.1,947.7 652.6,947C654.1,946.3 656.2,944.4 657.4,943.8C658.6,943.2 659.6,943.5 660,943.5"/>
<path class="s" d="M631.8,957.9L632,957.7 632.1,957.5 632.2,957.3 632.4,957 632.5,956.8 632.7,956.6 632.8,956.4 633,956.2 633.1,956 633.3,955.8 633.5,955.6 633.6,955.4 633.8,955.3 634,955.1 634.2,954.9 634.3,954.8 634.5,954.6 634.7,954.5 634.9,954.3 635.1,954.2 635.3,954.1 635.5,954 635.7,953.9 635.8,953.8 636,953.7 636.2,953.6 636.4,953.5 636.6,953.4 636.8,953.4 637,953.3 637.2,953.3 637.4,953.3 637.5,953.2 637.7,953.2 637.9,953.2 638.1,953.2 638.3,953.2 638.4,953.2 638.6,953.2 638.8,953.3 638.9,953.3 639.1,953.4 639.2,953.4 639.4,953.5 639.5,953.6 639.7,953.6 639.8,953.7 639.9,953.8 640.1,953.9 640.2,954.1 640.3,954.2 640.4,954.3 640.5,954.4 640.6,954.6 640.7,954.7 640.8,954.9 640.9,955 641,955.2 641.1,955.4 641.1,955.6 641.2,955.8 641.2,955.9 641.3,956.1 641.3,956.3 641.4,956.5 641.4,956.8 641.4,957 641.4,957.2 641.4,957.4 641.4,957.6 641.4,957.9 641.4,958.1 641.4,958.3 641.4,958.6 641.3,958.8 641.3,959 641.3,959.3 641.2,959.5 641.1,959.8 641.1,960 641,960.2 640.9,960.5 640.8,960.7 640.8,961 640.7,961.2 640.6,961.5 640.5,961.7 640.3,961.9 640.2,962.2 640.1,962.4 640,962.6 639.8,962.9 639.7,963.1 639.6,963.3 639.4,963.5 639.3,963.7 639.1,963.9 639,964.1 638.8,964.3 638.6,964.5 638.5,964.7 638.3,964.9 638.1,965.1 638,965.2 637.8,965.4 637.6,965.6 637.4,965.7 637.2,965.9 637,966 636.9,966.1 636.7,966.2 636.5,966.4 636.3,966.5 636.1,966.6 635.9,966.7 635.7,966.7 635.5,966.8 635.3,966.9 635.1,966.9 635,967 634.8,967 634.6,967.1 634.4,967.1 634.2,967.1 634,967.1 633.9,967.1 633.7,967.1 633.5,967.1 633.3,967.1 633.2,967.1 633,967 632.9,967 632.7,966.9 632.6,966.8 632.4,966.8 632.3,966.7 632.1,966.6 632,966.5 631.9,966.4 631.7,966.3 631.6,966.2 631.5,966 631.4,965.9 631.3,965.8 631.2,965.6 631.1,965.4 631,965.3 631,965.1 630.9,964.9 630.8,964.8 630.8,964.6 630.7,964.4 630.7,964.2 630.6,964 630.6,963.8 630.6,963.6 630.5,963.4 630.5,963.1 630.5,962.9 630.5,962.7 630.5,962.5 630.5,962.2 630.5,962 630.6,961.8 630.6,961.5 630.6,961.3 630.7,961.1 630.7,960.8 630.8,960.6 630.9,960.3 630.9,960.1 631,959.8 631.1,959.6 631.2,959.4 631.3,959.1 631.4,958.9 631.5,958.6 631.6,958.4 631.7,958.2Z"/>
<path class="s" d="M636.6,955C636.1,955.8 634.1,958.2 633.4,959.8C632.7,961.4 632.4,963.8 632.2,964.6"/>
<path class="ph" d="M615,947L622.6,952.2"/>
<path class="a" d="M148.2,1238L168.5,1206.5 173.5,1209.5 173.5,1212.5 203.4,1196.8 208.2,1199.8 208.2,1223.4 173.5,1241.8 173.5,1252.2 148.2,1238Z"/>
<path class="a2" d="M153.9,1239.5L171.5,1212.5"/>
<path class="a2" d="M174.1,1218.1L206,1200.1"/>
<path class="a" d="M173.5,1212.5L173.5,1218.5"/>
<text class="copy" transform="matrix(1.0186 0 0 1.0000 44.00 1441.60)">©2015 Yamaha Motor Corporation, U.S.A. All rights reserved.</text>
<text class="pn" transform="matrix(1.2232 0 0 1.0000 115.53 1279.50)">5ST2414-C270</text>
<text class="lbl" transform="matrix(1.3875 0 0 1.0000 141.71 420.00)">6</text>
<text class="lbl" transform="matrix(1.3875 0 0 1.0000 222.51 476.00)">5</text>
<text class="lbl" transform="matrix(1.4250 0 0 0.9692 766.18 402.80)">3</text>
<text class="lbl" transform="matrix(1.4000 0 0 0.9846 904.20 579.20)">2</text>
<text class="lbl" transform="matrix(1.1500 0 0 1.0000 728.50 873.00)">4</text>
<text class="lbl" transform="matrix(1.1250 0 0 1.0000 494.50 942.00)">4</text>
<path class="s" style="stroke-width:1.9;stroke-linecap:butt" d="M308.3,663.3V676.8"/>
<path class="s" style="stroke-width:1.7;stroke-linecap:round" d="M303.4,667 C305.5,666.6 307.5,665.5 308.3,663.5"/>
<text class="fwd" transform="translate(171.6,1240.6) skewY(-28.6) scale(0.63,1)">FWD</text>
</svg>
</body></html>
